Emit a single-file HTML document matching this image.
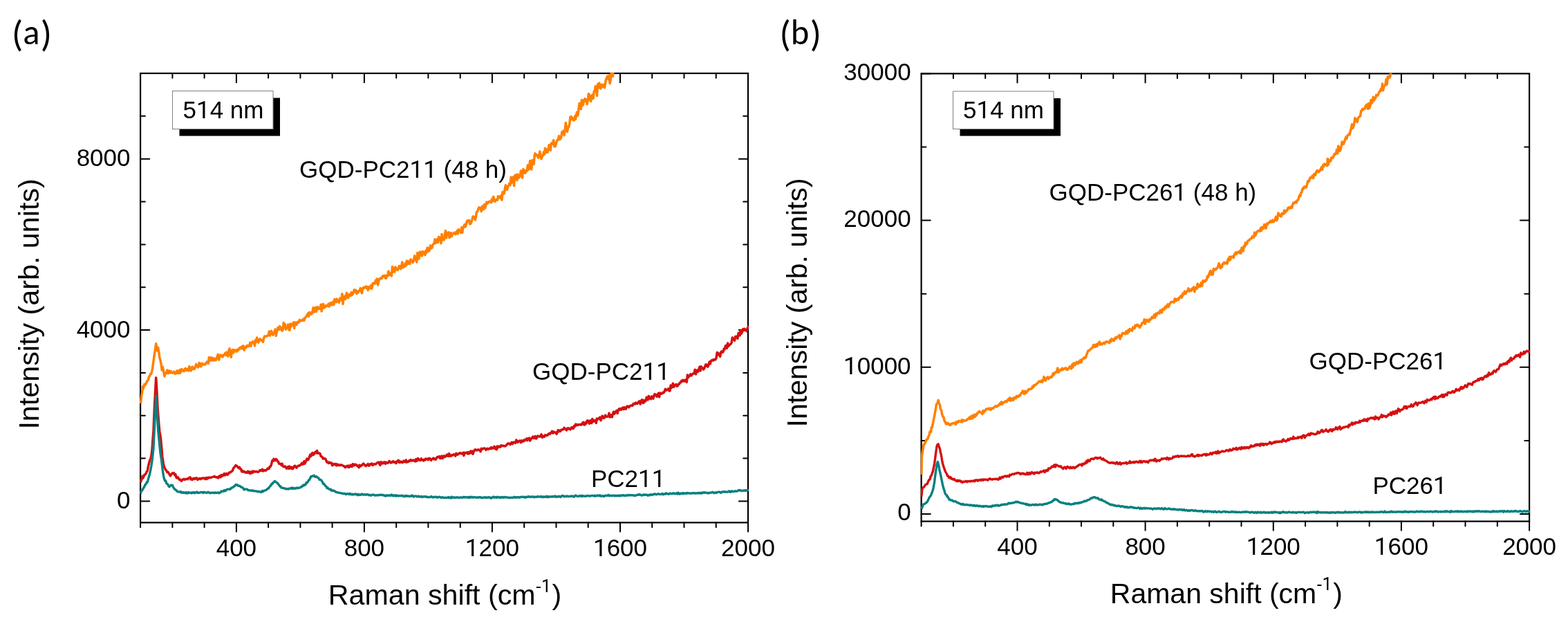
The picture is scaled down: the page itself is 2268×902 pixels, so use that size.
<!DOCTYPE html>
<html><head><meta charset="utf-8"><title>Raman spectra</title>
<style>html,body{margin:0;padding:0;background:#fff;}svg{display:block;}</style>
</head><body>
<svg width="2268" height="902" viewBox="0 0 2268 902">
<rect width="2268" height="902" fill="#fff"/>
<defs><clipPath id="ca"><rect x="202.1" y="105.0" width="880.9" height="651.4"/></clipPath><clipPath id="cb"><rect x="1331.6" y="105.4" width="881.5" height="649.2"/></clipPath></defs>
<rect x="203.1" y="106.0" width="878.9" height="649.4" fill="none" stroke="#000" stroke-width="2.2"/>
<path d="M203.1 755.4v6.8M249.4 755.4v6.8M249.4 106.0v6.8M295.6 755.4v6.8M295.6 106.0v6.8M341.9 755.4v13.2M341.9 106.0v13.2M388.1 755.4v6.8M388.1 106.0v6.8M434.4 755.4v6.8M434.4 106.0v6.8M480.6 755.4v6.8M480.6 106.0v6.8M526.9 755.4v13.2M526.9 106.0v13.2M573.2 755.4v6.8M573.2 106.0v6.8M619.4 755.4v6.8M619.4 106.0v6.8M665.7 755.4v6.8M665.7 106.0v6.8M711.9 755.4v13.2M711.9 106.0v13.2M758.2 755.4v6.8M758.2 106.0v6.8M804.5 755.4v6.8M804.5 106.0v6.8M850.7 755.4v6.8M850.7 106.0v6.8M897.0 755.4v13.2M897.0 106.0v13.2M943.2 755.4v6.8M943.2 106.0v6.8M989.5 755.4v6.8M989.5 106.0v6.8M1035.7 755.4v6.8M1035.7 106.0v6.8M1082.0 755.4v13.2M203.1 724.5h13.2M1082.0 724.5h-13.2M203.1 662.6h6.8M1082.0 662.6h-6.8M203.1 600.8h6.8M1082.0 600.8h-6.8M203.1 538.9h6.8M1082.0 538.9h-6.8M203.1 477.1h13.2M1082.0 477.1h-13.2M203.1 415.2h6.8M1082.0 415.2h-6.8M203.1 353.4h6.8M1082.0 353.4h-6.8M203.1 291.5h6.8M1082.0 291.5h-6.8M203.1 229.7h13.2M1082.0 229.7h-13.2M203.1 167.8h6.8M1082.0 167.8h-6.8M203.1 106.0h6.8" fill="none" stroke="#000" stroke-width="2.0" stroke-linecap="round"/>
<rect x="1332.6" y="106.4" width="879.5" height="647.2" fill="none" stroke="#000" stroke-width="2.2"/>
<path d="M1332.6 753.6v6.8M1378.9 753.6v6.8M1378.9 106.4v6.8M1425.2 753.6v6.8M1425.2 106.4v6.8M1471.5 753.6v13.2M1471.5 106.4v13.2M1517.8 753.6v6.8M1517.8 106.4v6.8M1564.0 753.6v6.8M1564.0 106.4v6.8M1610.3 753.6v6.8M1610.3 106.4v6.8M1656.6 753.6v13.2M1656.6 106.4v13.2M1702.9 753.6v6.8M1702.9 106.4v6.8M1749.2 753.6v6.8M1749.2 106.4v6.8M1795.5 753.6v6.8M1795.5 106.4v6.8M1841.8 753.6v13.2M1841.8 106.4v13.2M1888.1 753.6v6.8M1888.1 106.4v6.8M1934.4 753.6v6.8M1934.4 106.4v6.8M1980.7 753.6v6.8M1980.7 106.4v6.8M2026.9 753.6v13.2M2026.9 106.4v13.2M2073.2 753.6v6.8M2073.2 106.4v6.8M2119.5 753.6v6.8M2119.5 106.4v6.8M2165.8 753.6v6.8M2165.8 106.4v6.8M2212.1 753.6v13.2M1332.6 743.0h13.2M2212.1 743.0h-13.2M1332.6 636.9h6.8M2212.1 636.9h-6.8M1332.6 530.8h13.2M2212.1 530.8h-13.2M1332.6 424.7h6.8M2212.1 424.7h-6.8M1332.6 318.6h13.2M2212.1 318.6h-13.2M1332.6 212.5h6.8M2212.1 212.5h-6.8M1332.6 106.4h13.2" fill="none" stroke="#000" stroke-width="2.0" stroke-linecap="round"/>
<g clip-path="url(#ca)">
<path d="M203.4 583.2 204.7 572.3 205.6 566.5 206.7 558.5 207.3 561.9 207.8 559.7 208.9 555.5 210.0 556.5 211.3 554.1 212.2 552.4 213.3 550.0 214.4 549.4 215.5 544.3 216.6 543.5 217.7 540.4 218.8 540.4 219.9 535.8 220.6 532.5 222.1 521.5 223.2 513.6 223.9 509.0 225.7 496.8 226.5 502.5 227.6 506.9 228.6 502.2 229.8 508.7 230.9 517.3 232.0 520.8 232.6 524.5 233.1 526.4 234.2 535.1 235.3 530.4 236.4 535.5 237.9 544.0 238.6 540.6 239.7 540.6 240.8 537.7 241.9 535.0 243.0 539.4 244.1 539.3 244.6 536.0 245.2 537.3 246.3 538.8 247.4 536.6 248.5 538.6 249.6 539.0 250.7 538.7 251.8 537.2 252.9 539.8 254.0 540.3 255.1 538.8 256.2 535.8 257.3 539.4 258.4 536.2 259.5 539.4 260.0 534.6 260.6 539.3 261.7 536.9 262.8 533.6 263.9 535.7 265.0 536.3 266.1 536.6 267.2 533.2 268.3 532.6 269.4 535.5 270.5 533.6 271.6 535.0 272.7 535.9 273.8 529.6 274.9 533.9 276.0 536.0 277.1 531.8 278.2 530.2 279.3 533.7 280.4 532.0 281.5 533.2 282.6 529.8 283.7 526.5 284.8 529.5 285.9 528.3 286.5 531.1 287.0 529.5 288.1 524.5 289.2 525.2 290.3 529.9 291.4 529.0 292.5 525.2 293.6 526.3 294.7 526.9 295.8 526.5 296.9 527.0 298.0 524.9 299.1 523.5 300.2 522.5 301.3 525.3 302.4 516.4 303.5 521.2 304.6 521.1 305.7 516.8 306.8 520.8 307.9 517.8 309.0 521.1 310.1 518.1 311.2 519.6 312.3 520.6 313.4 518.0 314.5 514.3 315.3 512.3 316.7 520.2 317.8 515.0 318.9 513.0 320.0 514.8 321.1 513.5 322.2 515.9 323.3 513.4 324.4 512.9 325.5 510.7 326.6 513.4 327.7 509.1 328.8 513.2 329.9 515.1 331.0 506.7 332.1 503.9 333.2 511.6 334.3 516.3 335.4 506.6 336.5 505.6 337.6 510.0 338.7 505.9 339.8 506.4 340.9 506.4 342.0 508.3 343.1 505.4 344.1 506.8 345.3 505.2 346.4 502.9 347.5 503.9 348.6 501.8 349.7 503.8 350.8 500.4 351.9 500.0 353.0 506.3 354.1 501.8 355.2 501.3 356.3 502.4 357.4 499.4 358.5 499.4 359.6 500.6 360.7 499.8 361.8 495.4 362.9 500.2 364.0 495.9 365.1 494.1 366.2 494.0 367.3 494.8 368.4 499.8 369.5 491.6 370.6 494.7 371.7 487.9 373.0 493.1 373.9 495.1 375.0 491.4 376.1 489.8 377.2 491.5 378.3 492.2 379.4 491.4 380.5 494.4 381.6 488.9 382.7 486.0 383.8 486.6 384.9 486.1 386.0 485.9 387.1 484.9 388.2 484.8 389.3 479.0 390.4 485.3 391.5 480.7 392.6 478.4 393.7 482.8 394.8 484.1 395.9 481.2 397.0 479.7 398.1 476.1 399.2 485.5 400.3 480.1 401.8 473.8 402.5 474.5 403.6 476.5 404.7 471.5 405.8 475.9 406.9 473.8 408.0 478.2 409.1 477.1 410.2 466.6 411.3 473.8 412.4 468.7 413.5 476.2 414.6 473.2 415.7 473.9 416.8 469.0 417.9 476.9 419.0 477.2 420.1 468.0 421.2 471.8 422.3 468.5 423.4 469.9 424.5 466.0 425.6 474.6 426.7 466.1 427.8 467.6 428.9 469.4 430.0 465.6 430.6 466.5 431.1 465.3 432.2 466.0 433.3 462.4 434.4 463.9 435.5 463.8 436.6 462.7 437.7 463.1 438.8 461.2 439.9 463.4 441.0 459.4 442.1 459.1 443.2 456.7 444.3 456.2 445.4 453.1 446.5 457.4 447.6 451.6 448.7 451.9 449.8 454.3 450.9 453.6 452.0 450.4 453.1 444.8 454.2 451.3 455.3 450.1 456.4 444.4 457.5 450.3 458.6 445.3 459.4 443.6 460.8 446.7 461.9 445.4 463.0 446.1 464.1 440.3 465.2 450.1 466.3 442.5 467.4 439.3 468.5 445.4 469.6 442.1 470.7 443.8 471.8 441.5 472.9 442.0 474.0 442.5 475.1 439.2 476.2 443.1 477.3 439.2 478.4 437.6 479.5 440.0 480.0 440.9 480.6 438.7 481.7 436.3 482.8 440.2 483.9 432.5 485.0 434.2 486.1 436.9 487.2 432.1 488.3 435.8 489.4 434.9 490.5 437.3 491.6 431.2 492.7 431.5 493.8 433.8 494.9 424.7 496.0 439.6 497.1 428.9 498.2 428.3 499.3 432.6 500.0 429.5 501.5 423.4 502.6 430.2 503.7 430.4 504.8 425.8 505.9 425.7 507.0 427.5 508.1 422.6 509.2 426.3 510.3 425.0 511.4 421.7 512.5 418.9 513.6 422.0 514.7 419.4 515.8 424.7 516.9 421.5 518.0 423.0 519.1 420.5 519.9 420.5 521.3 416.6 522.4 420.7 523.5 423.8 524.6 416.8 525.7 415.5 526.8 416.5 527.9 415.1 529.0 414.0 530.1 416.2 531.2 414.5 532.3 419.5 533.4 414.6 534.5 415.2 535.6 416.7 536.7 412.3 537.8 417.3 538.9 410.2 539.9 409.1 541.1 409.9 542.2 410.1 543.3 405.3 544.4 408.9 545.5 402.9 546.6 411.9 547.7 406.4 548.8 403.8 549.9 402.1 551.0 402.9 552.1 402.6 553.2 399.1 554.3 398.7 555.4 400.2 556.5 398.3 557.6 402.2 558.7 402.1 559.8 397.8 560.9 398.5 562.0 392.0 563.1 397.7 564.2 394.8 565.3 395.8 566.4 398.8 567.5 385.5 568.6 393.1 569.7 388.0 570.8 392.9 571.9 386.0 573.0 388.1 574.1 389.7 575.2 390.4 576.3 388.0 577.4 384.5 578.5 384.7 579.8 388.6 580.7 385.1 581.8 379.0 582.9 386.7 584.0 384.6 585.1 385.5 586.2 380.8 587.3 384.0 588.4 377.1 589.5 381.9 590.6 377.7 591.7 381.0 592.8 381.4 593.9 374.9 595.0 376.6 596.1 376.2 597.2 379.4 598.3 377.1 599.7 369.7 600.5 374.8 601.6 375.1 602.7 379.0 603.8 365.5 604.9 368.6 606.0 374.1 607.1 364.3 608.2 364.1 609.3 369.1 610.4 370.0 611.5 363.5 612.6 366.8 613.7 364.6 614.8 368.6 615.9 362.6 617.0 365.2 618.1 357.9 619.2 359.5 619.7 359.5 620.3 363.2 621.4 360.5 622.5 355.0 623.6 359.0 624.7 358.3 625.8 354.3 626.9 352.8 628.0 352.1 629.1 345.9 630.2 351.4 631.3 350.6 632.4 345.9 633.5 350.6 634.6 342.3 635.7 344.4 636.8 343.8 637.9 351.7 639.0 338.5 639.6 345.8 640.1 346.8 641.2 344.3 642.3 346.6 643.4 338.5 644.5 333.6 645.6 343.9 646.7 336.6 647.8 339.3 648.9 335.9 650.0 343.4 651.1 342.4 652.2 336.5 653.3 341.8 654.4 338.6 655.5 337.3 656.6 337.5 657.7 336.1 658.8 338.5 659.6 337.0 661.0 333.9 662.1 338.0 663.2 331.6 664.3 334.0 665.4 333.7 666.5 336.7 667.6 328.8 668.7 335.9 669.8 329.4 670.9 327.1 672.0 324.5 673.1 328.0 674.2 325.1 675.3 319.9 676.4 318.8 677.5 319.8 678.6 318.3 679.5 323.8 680.8 323.5 681.9 320.5 683.0 317.3 684.1 313.0 685.2 313.3 686.3 314.9 687.4 317.9 688.5 311.9 689.6 306.0 690.7 305.7 691.8 302.3 692.9 299.8 694.0 300.6 695.1 300.7 696.2 305.6 697.3 297.9 698.4 301.8 699.5 302.6 700.6 295.6 701.7 300.7 702.8 296.8 703.9 292.1 705.0 294.2 706.1 292.8 707.2 291.5 708.3 291.2 709.4 292.1 710.5 292.8 711.6 287.5 712.7 290.4 713.8 284.3 714.9 290.5 716.0 291.3 717.1 289.0 718.2 288.8 719.4 289.2 720.4 283.7 721.5 284.2 722.6 285.8 723.7 286.3 724.8 282.5 725.9 289.1 727.0 277.6 728.1 280.2 729.2 279.8 730.3 273.1 730.9 269.8 731.4 267.8 732.5 271.8 733.6 274.2 734.7 269.8 735.8 268.3 736.9 265.1 738.0 267.6 739.1 256.1 740.2 264.1 741.3 262.3 742.4 255.9 743.5 268.5 744.6 253.8 745.3 254.3 746.8 252.6 747.9 260.6 749.0 252.0 750.1 257.2 751.2 256.1 752.3 254.0 753.4 247.1 754.5 249.0 755.6 257.1 756.7 244.6 757.8 245.5 758.9 247.1 759.7 250.2 761.1 246.6 762.2 247.2 763.3 238.8 764.4 245.3 765.5 242.4 766.6 232.5 767.7 243.4 768.8 244.9 769.9 231.4 771.0 233.3 772.1 237.4 773.2 224.7 774.1 221.8 775.4 223.3 776.5 225.3 777.6 224.3 778.7 228.1 779.8 225.9 780.9 219.0 782.0 225.4 783.1 229.8 784.2 226.3 785.3 224.7 786.4 219.9 787.5 223.0 788.5 214.3 789.7 220.3 790.8 216.1 791.9 220.2 793.0 216.7 794.1 209.6 795.2 213.7 796.3 217.3 797.4 206.9 798.5 208.3 799.6 206.6 800.7 202.6 801.8 211.6 802.9 211.9 804.0 208.7 805.1 205.1 806.2 202.5 807.3 202.1 808.4 196.6 809.5 201.6 810.6 200.6 811.7 198.4 812.8 190.7 813.9 191.6 815.0 189.0 816.1 195.5 817.3 187.2 818.3 177.4 819.4 185.5 820.5 190.4 821.6 184.1 822.7 183.6 823.8 178.8 824.9 169.1 826.0 168.5 827.1 169.6 828.2 173.0 829.3 173.5 830.4 173.8 831.7 167.8 832.6 172.1 833.7 165.3 834.8 162.0 835.9 167.1 837.0 158.0 838.1 149.2 839.2 154.1 840.3 157.5 841.4 144.4 842.5 152.4 843.6 150.9 844.7 144.7 846.1 142.6 846.9 146.0 848.0 144.2 849.1 150.6 850.2 145.4 851.3 135.5 852.4 137.3 853.5 142.7 854.6 146.5 855.7 138.7 856.8 137.1 857.9 142.6 859.0 133.2 860.5 130.4 861.2 124.8 862.3 127.7 863.4 138.4 864.5 121.7 865.6 127.0 866.7 119.9 867.8 125.7 868.9 128.1 870.0 122.2 871.1 125.6 872.2 124.5 873.3 122.3 874.4 126.8 875.5 121.5 876.2 116.0 877.7 112.4 878.8 110.2 879.9 114.4 881.0 109.2 882.1 120.5 883.2 115.5 884.3 104.7 885.5 102.5 886.5 110.2 887.6 92.9 888.7 97.9 889.8 102.8" fill="none" stroke="#ff8000" stroke-width="3.5" stroke-linejoin="round"/>
<path d="M203.4 697.2 204.5 693.5 205.6 691.1 206.1 688.3 206.7 691.2 207.8 689.1 209.0 686.2 210.0 686.1 211.1 684.4 212.2 681.9 213.3 680.3 214.4 674.4 215.9 668.1 216.6 665.4 217.7 664.0 218.9 658.7 219.9 650.8 220.7 639.6 222.0 622.4 223.2 593.4 224.5 566.6 225.7 545.9 226.9 565.6 227.6 581.5 228.3 593.2 229.9 613.3 230.9 624.7 232.3 632.0 233.1 640.2 234.2 652.1 234.8 660.0 235.3 662.7 236.4 670.6 237.5 674.8 238.6 677.0 239.7 679.2 240.8 680.4 241.6 682.5 243.0 682.2 244.1 684.1 245.2 685.8 246.3 688.0 247.5 685.9 248.5 684.9 249.6 683.9 250.8 684.5 251.8 683.8 252.9 686.9 254.0 685.8 255.1 690.3 255.8 690.9 257.3 689.8 258.4 692.0 259.5 693.5 260.6 693.0 261.7 694.1 262.4 695.3 263.9 693.5 265.0 692.9 266.1 692.4 267.2 693.5 268.3 692.6 269.4 692.4 270.5 692.3 271.6 692.8 272.7 691.2 273.8 690.7 275.0 689.9 276.0 693.0 277.1 692.0 278.2 693.3 279.3 692.0 280.4 691.3 281.5 692.4 282.6 691.9 283.7 690.8 284.8 691.2 285.9 693.5 287.0 692.2 288.1 692.3 288.7 691.7 289.2 691.3 290.3 692.6 291.4 691.7 292.5 691.1 293.6 691.6 294.7 690.8 295.8 691.7 296.9 692.4 298.0 690.6 299.1 692.5 300.2 690.5 301.3 691.1 302.4 690.1 303.5 690.5 304.6 690.6 305.7 690.0 306.8 689.6 307.9 689.4 309.0 689.1 310.1 688.3 310.9 689.4 312.3 689.7 313.4 690.0 314.5 689.6 315.6 691.0 316.7 688.8 317.8 687.9 318.9 689.8 320.0 686.8 321.1 688.4 322.2 686.3 323.3 687.2 324.4 684.6 325.5 687.0 326.6 685.6 327.7 684.4 328.8 686.5 329.9 685.2 331.0 684.0 332.1 682.7 333.0 683.0 334.3 681.8 335.4 681.4 336.5 680.0 337.6 676.9 338.7 675.6 339.8 674.3 340.9 672.6 341.9 673.2 343.1 673.9 344.2 675.3 345.3 676.7 346.4 675.4 347.5 677.9 348.6 678.0 349.7 681.7 350.8 680.6 351.9 682.1 353.0 681.4 354.1 682.0 355.2 683.2 356.3 682.6 357.4 683.3 358.5 681.4 359.6 683.5 360.7 681.9 361.8 684.5 362.9 682.4 364.0 683.7 365.1 681.1 366.2 682.8 367.3 681.3 368.4 681.6 369.5 682.0 370.6 681.5 371.7 681.9 372.8 682.3 373.9 682.0 375.0 681.1 376.1 679.6 377.4 680.0 378.3 680.5 379.4 678.3 380.5 681.0 381.6 679.7 382.7 679.5 383.8 680.4 384.9 679.7 386.0 678.9 387.1 677.1 388.5 677.8 389.3 677.2 390.4 674.2 391.5 674.2 392.6 671.2 393.7 665.9 394.8 666.3 395.9 663.3 396.9 665.7 398.1 665.4 399.2 663.6 400.3 664.6 401.4 666.6 402.5 667.2 403.6 670.3 404.7 670.5 405.8 670.4 406.9 672.4 408.0 670.4 409.1 673.8 410.6 675.0 411.3 674.1 412.4 673.9 413.5 675.6 414.6 677.4 415.7 675.7 416.8 674.6 417.9 677.5 419.0 674.1 420.1 676.8 421.2 675.7 421.7 677.3 422.3 675.4 423.4 677.6 424.5 676.4 425.6 673.9 426.7 673.4 427.8 674.8 428.9 676.1 430.0 674.4 431.1 673.8 432.2 672.9 433.3 673.3 434.4 672.3 435.5 671.5 436.6 669.4 437.7 671.1 438.8 670.6 439.9 666.7 441.0 670.1 442.1 667.5 443.2 665.3 443.9 663.1 445.4 664.8 446.5 663.4 447.6 660.4 448.7 657.3 449.8 659.4 450.9 655.8 452.0 654.6 453.1 657.6 454.2 656.4 455.0 654.7 456.4 653.1 457.5 654.8 458.6 651.5 459.7 655.3 460.8 654.9 461.9 655.1 463.0 655.7 464.1 659.4 465.2 659.9 466.3 661.1 467.4 663.1 468.5 662.2 469.6 662.8 470.7 663.2 471.8 665.9 472.9 668.1 474.0 667.9 475.1 669.5 476.2 668.0 477.2 669.2 478.4 669.2 479.5 669.0 480.6 672.8 481.7 672.0 482.8 670.5 483.9 670.8 485.0 671.9 486.1 670.6 487.2 672.9 488.3 671.3 489.4 672.5 490.5 672.0 491.6 672.8 492.7 672.0 493.8 671.9 494.9 672.7 496.0 673.1 497.1 673.6 498.2 674.1 499.3 675.7 500.4 674.9 501.5 673.7 502.6 674.8 503.7 673.2 504.8 675.5 505.9 674.5 507.0 672.3 508.1 674.6 509.2 674.6 510.3 670.7 511.4 672.7 512.5 672.9 513.6 671.2 514.7 672.1 515.8 672.1 516.9 673.7 518.0 673.3 519.1 675.8 520.2 672.3 521.3 674.0 522.4 672.7 523.5 672.8 524.6 671.1 525.7 670.1 526.8 671.3 527.9 672.9 529.0 673.7 530.1 672.5 531.2 672.2 532.3 670.6 533.4 673.2 534.5 672.9 535.6 670.7 536.5 671.1 537.8 670.0 538.9 672.6 540.0 671.3 541.1 670.7 542.2 671.1 543.3 671.1 544.4 670.0 545.5 668.9 546.6 668.8 547.7 668.1 548.8 670.5 549.9 672.4 551.0 667.8 552.1 669.8 553.2 670.0 554.3 668.3 555.4 669.5 556.5 667.9 557.6 670.4 558.7 668.3 559.8 668.9 560.9 669.5 562.0 668.1 563.1 666.4 564.2 667.7 565.3 669.1 566.4 668.0 567.5 668.3 568.6 666.7 569.7 668.0 570.8 668.5 571.9 667.6 573.0 669.7 574.2 667.2 575.2 666.1 576.3 665.3 577.4 668.5 578.5 667.0 579.6 668.2 580.7 667.4 581.8 668.7 582.9 668.2 584.0 666.2 585.1 666.9 586.2 667.8 587.3 665.0 588.4 668.1 589.5 667.7 590.6 667.4 591.7 665.9 592.8 666.4 593.9 664.7 595.0 666.0 596.1 665.2 597.2 665.9 598.3 665.1 599.4 666.0 600.5 667.0 601.6 663.9 602.7 666.5 603.8 663.0 604.9 662.7 606.0 665.0 607.1 665.1 608.2 665.5 609.3 662.9 610.4 664.7 611.9 664.8 612.6 666.0 613.7 664.3 614.8 664.9 615.9 663.0 617.0 663.8 618.1 663.4 619.2 664.6 620.3 662.4 621.4 662.5 622.5 664.0 623.6 665.3 624.7 663.4 625.8 663.2 626.9 662.2 628.0 663.8 629.1 663.0 630.2 664.2 631.3 662.4 632.4 660.6 633.5 660.9 634.6 660.2 635.7 659.7 636.8 662.6 637.9 661.9 639.0 659.1 640.1 662.7 641.2 660.6 642.3 658.9 643.4 660.4 644.5 659.7 645.6 658.6 646.7 657.0 647.8 659.2 648.9 659.4 649.6 655.7 651.1 659.3 652.2 659.2 653.3 657.7 654.4 658.3 655.5 657.6 656.6 656.7 657.7 657.1 658.8 659.1 659.9 655.4 661.0 657.3 662.1 657.0 663.2 655.7 664.3 655.9 665.4 654.5 666.5 655.0 667.6 655.9 668.7 656.1 669.8 654.3 670.9 658.6 672.0 654.4 673.1 655.1 674.2 654.4 675.3 654.0 676.4 656.0 677.5 653.5 678.6 655.6 679.7 655.2 680.8 652.1 681.9 654.6 683.0 652.2 684.1 656.3 685.2 652.2 686.3 651.3 687.3 649.8 688.5 650.4 689.6 651.1 690.7 650.4 691.8 649.8 692.9 650.3 694.0 650.8 695.1 652.8 696.2 648.4 697.3 649.7 698.4 648.9 699.5 648.0 700.6 648.1 701.7 648.4 702.8 650.3 703.9 648.9 705.0 648.2 706.1 649.5 707.2 648.9 708.3 648.0 709.4 648.6 710.5 646.7 711.6 648.5 712.7 648.0 713.8 646.6 714.9 645.3 716.0 648.8 717.1 646.6 718.2 649.8 719.3 645.1 720.4 647.0 721.5 645.0 722.6 645.7 723.7 646.2 725.0 643.7 725.9 644.5 727.0 644.6 728.1 644.3 729.2 644.7 730.3 645.0 731.4 644.5 732.5 643.4 733.6 642.3 734.7 641.0 735.8 641.2 736.9 641.3 738.0 642.7 739.1 640.9 740.2 639.4 741.3 641.8 742.4 639.5 743.5 639.2 744.6 639.7 745.7 640.4 746.8 636.0 747.9 637.6 749.0 639.2 750.1 638.1 751.2 637.1 752.3 637.3 753.4 639.8 754.5 636.8 755.6 638.2 756.7 638.1 757.8 636.0 758.9 637.0 760.0 635.4 761.1 634.9 762.2 633.9 762.7 636.7 763.3 634.7 764.4 634.2 765.5 633.1 766.6 637.1 767.7 635.2 768.8 633.7 769.9 632.6 771.0 631.1 772.1 633.5 773.2 633.2 774.3 630.5 775.4 634.0 776.5 633.2 777.6 630.3 778.7 630.6 779.8 630.6 780.9 631.2 782.0 630.4 783.1 627.9 784.2 632.3 785.3 630.3 786.4 631.5 787.5 631.2 788.6 628.7 789.7 629.3 790.8 629.6 791.9 629.3 793.0 627.6 794.1 626.7 795.2 627.4 796.3 625.8 797.4 625.9 798.5 623.3 800.0 626.1 800.7 624.2 801.8 624.6 802.9 625.1 804.0 625.3 805.1 627.5 806.2 624.5 807.3 621.7 808.4 623.8 809.5 622.3 810.6 623.5 811.7 621.5 812.8 621.1 813.9 621.1 815.0 620.5 816.1 618.3 817.2 619.8 818.3 620.5 819.4 622.0 820.5 619.3 821.6 618.8 822.7 620.0 823.8 619.6 824.9 620.9 826.0 618.9 827.1 617.6 828.2 619.4 829.3 619.4 830.4 615.8 831.5 616.5 832.6 613.2 833.7 614.9 834.8 613.8 835.9 614.5 837.0 613.7 838.1 613.9 839.2 613.6 840.3 614.3 841.4 613.5 842.1 612.0 843.6 610.3 844.7 614.1 845.8 614.1 846.9 610.7 848.0 612.1 849.1 608.3 850.2 608.0 851.3 609.8 852.4 612.4 853.5 607.9 854.6 607.9 855.7 611.7 856.8 605.5 857.9 609.5 859.0 608.9 860.1 607.4 861.2 607.7 862.3 611.4 863.4 604.9 864.5 605.9 865.6 605.7 866.7 604.6 867.8 603.1 868.9 607.7 870.0 605.1 871.1 601.3 872.2 602.7 873.1 604.3 874.4 603.8 875.5 600.2 876.6 602.1 877.7 602.3 878.8 602.0 879.9 601.6 881.0 597.3 882.1 603.1 883.2 599.8 884.3 602.0 885.4 602.9 886.5 597.6 887.6 595.2 888.7 598.3 889.8 595.9 890.9 594.9 892.0 593.4 893.1 597.6 894.2 593.4 895.3 591.1 896.4 592.3 897.5 590.5 898.6 592.3 899.7 590.8 900.8 589.2 901.9 591.6 903.0 588.9 904.1 590.9 905.2 591.4 906.3 588.0 907.4 587.1 908.5 588.1 909.6 588.9 910.7 586.9 911.8 586.7 912.9 586.0 914.0 586.2 915.1 586.3 916.2 583.4 917.3 583.4 918.4 584.0 919.5 582.2 920.6 583.3 921.7 583.6 922.8 582.1 923.9 580.6 925.0 579.9 926.1 584.1 927.2 582.1 928.3 577.9 929.4 578.0 930.5 582.6 931.6 581.5 932.7 578.5 933.8 579.9 935.2 574.4 936.0 576.9 937.1 577.8 938.2 572.4 939.3 574.0 940.4 576.5 941.5 576.7 942.6 573.0 943.7 574.2 944.8 576.2 945.9 572.0 947.0 569.7 948.1 571.6 949.2 570.5 950.3 573.3 951.4 570.6 952.5 568.3 953.6 573.9 954.7 567.9 955.8 569.2 956.9 569.1 958.0 568.8 959.1 567.1 960.2 567.4 961.3 565.6 962.4 562.4 963.5 564.2 964.6 563.7 965.7 563.2 966.2 563.6 966.8 561.8 967.9 565.0 969.0 564.9 970.1 556.9 971.2 560.6 972.3 558.6 973.4 554.2 974.5 559.6 975.6 556.9 976.7 556.7 977.8 555.5 978.9 558.3 980.0 558.0 981.1 555.4 982.2 555.6 983.3 553.3 984.4 553.1 985.5 550.6 986.6 551.5 987.7 549.3 988.8 550.8 989.9 551.0 991.0 549.2 992.1 550.3 993.2 552.5 994.3 542.1 995.4 545.8 996.5 543.9 997.2 543.7 998.7 540.8 999.8 543.0 1000.9 541.7 1002.0 540.2 1003.1 540.2 1004.2 538.8 1005.3 534.4 1006.4 540.9 1007.5 537.2 1008.6 535.1 1009.7 537.1 1010.8 534.3 1011.9 530.3 1013.0 536.1 1014.1 529.8 1015.2 532.2 1016.3 532.1 1017.4 534.0 1018.5 532.9 1019.6 529.9 1020.7 527.0 1021.8 527.0 1022.9 529.4 1024.0 530.1 1025.1 526.5 1026.2 523.1 1027.3 525.9 1028.2 522.1 1029.5 520.9 1030.6 520.3 1031.7 521.2 1032.8 519.6 1033.9 520.1 1035.0 519.8 1036.1 517.0 1037.2 509.6 1038.3 510.0 1039.4 513.0 1040.5 511.4 1041.6 515.4 1042.7 509.3 1043.8 507.9 1044.9 509.3 1046.0 508.5 1047.1 504.4 1048.2 504.9 1049.3 500.1 1050.4 499.4 1051.5 503.3 1052.6 496.1 1053.7 500.4 1054.8 498.8 1055.9 498.0 1057.0 497.3 1058.1 495.4 1059.3 488.0 1060.3 489.7 1061.4 489.7 1062.5 492.3 1063.6 486.5 1064.7 486.5 1065.8 486.3 1066.9 489.4 1068.0 481.8 1069.1 481.1 1070.2 484.9 1071.3 477.3 1072.4 482.3 1073.5 479.5 1074.6 475.8 1075.7 477.7 1076.8 475.3 1077.9 477.3 1079.0 476.8 1080.1 478.7 1081.2 474.1 1082.3 473.5 1083.2 471.1" fill="none" stroke="#d51010" stroke-width="3.5" stroke-linejoin="round"/>
<path d="M203.4 713.3 204.5 709.5 205.6 709.1 206.7 706.8 208.0 704.8 208.9 703.4 210.0 700.6 211.1 699.8 212.2 697.2 213.3 697.0 214.4 692.6 215.5 688.8 216.6 685.0 217.1 682.7 217.7 679.6 218.8 673.7 220.1 665.4 221.0 657.3 222.0 647.7 223.2 622.9 223.8 610.0 224.3 601.9 224.8 590.8 225.8 572.2 226.9 589.7 228.0 610.7 228.7 622.3 229.8 632.9 230.5 640.2 232.0 655.1 233.1 661.8 234.1 669.7 235.3 679.9 236.4 687.3 237.5 692.1 238.6 695.1 239.7 694.9 241.0 699.1 241.9 699.3 243.0 700.6 244.1 703.1 245.0 703.7 246.3 702.4 247.4 701.1 248.7 701.1 249.6 701.7 250.7 704.4 251.8 706.1 252.4 706.6 252.9 707.6 254.0 708.0 255.1 708.7 256.2 710.3 257.3 710.9 258.3 710.9 259.5 710.9 260.6 711.6 261.7 710.6 262.8 712.2 263.9 712.3 265.0 711.5 266.1 712.3 267.2 712.0 268.3 712.8 269.4 711.6 270.0 712.1 270.5 712.8 271.6 713.0 272.7 711.5 273.8 712.2 274.9 712.5 276.0 712.1 277.1 713.0 278.2 711.7 279.3 712.3 280.4 711.6 281.5 712.7 282.6 712.0 283.7 711.8 284.8 711.1 285.9 712.6 287.0 712.2 288.1 712.1 288.7 712.3 289.2 712.0 290.3 711.5 291.4 711.5 292.5 711.5 293.6 712.5 294.7 711.2 295.8 711.7 296.9 711.8 298.0 712.1 299.1 712.3 300.2 711.5 301.3 711.3 302.4 712.1 303.5 712.7 304.6 712.5 305.7 712.3 306.8 712.1 307.9 712.4 309.0 712.2 310.1 712.7 310.9 711.9 312.3 712.3 313.4 712.1 314.5 712.3 315.6 712.0 316.7 712.9 317.8 712.2 318.9 711.9 320.0 710.0 321.1 710.5 322.2 710.0 323.3 710.2 324.4 708.5 325.5 709.8 326.6 709.3 327.7 707.7 328.8 707.5 329.9 707.1 331.0 707.1 332.1 707.0 333.0 707.4 334.3 705.5 335.4 705.3 336.5 704.1 337.6 704.1 338.7 702.7 339.8 702.4 340.9 700.5 341.9 700.9 343.1 700.6 344.2 702.3 345.3 702.3 346.4 702.3 347.5 702.9 348.6 704.1 349.7 704.2 350.8 704.8 351.9 706.2 353.0 707.9 354.1 706.9 355.2 707.1 356.3 707.1 357.4 707.2 358.5 708.4 359.6 708.8 360.7 708.7 361.8 709.0 362.9 709.2 364.0 709.4 365.1 708.8 366.2 709.5 367.3 709.9 368.4 709.7 369.5 709.9 370.6 709.9 371.7 710.3 372.8 710.9 373.9 710.4 375.0 710.6 376.1 711.1 377.4 711.0 378.3 711.4 379.4 709.5 380.5 710.5 381.6 709.4 382.7 709.1 383.8 708.8 384.9 708.3 386.0 707.5 387.1 706.3 388.5 706.1 389.3 704.3 390.4 703.1 391.5 702.1 392.6 699.6 393.7 699.7 394.8 697.7 395.9 697.5 396.9 695.8 398.1 695.8 399.2 696.7 400.3 697.9 401.4 698.1 402.5 699.9 403.6 700.9 404.7 703.1 405.8 703.0 406.9 705.0 408.0 705.0 409.1 705.4 410.6 705.9 411.3 705.7 412.4 706.4 413.5 706.8 414.6 706.4 415.7 706.6 416.8 707.1 417.9 706.3 419.0 706.3 420.1 706.0 421.2 705.2 422.3 706.4 423.4 705.0 424.5 706.2 425.6 705.8 426.7 706.3 427.8 705.6 428.9 705.1 430.0 705.7 431.1 705.1 432.2 705.2 432.8 705.2 433.3 705.1 434.4 704.7 435.5 703.9 436.6 703.7 437.7 701.8 438.8 702.2 439.9 700.7 441.0 701.2 442.1 700.3 443.2 697.4 443.9 698.1 445.4 696.3 446.5 694.1 447.6 693.6 448.7 691.2 449.8 688.8 450.9 688.7 452.0 688.1 452.8 688.1 454.2 687.2 455.3 689.0 456.4 689.5 457.5 688.7 458.6 689.6 459.4 690.4 460.8 691.0 461.9 693.4 463.0 693.3 464.1 693.6 465.2 695.0 466.3 696.7 467.4 699.5 468.5 699.2 469.6 700.7 470.7 702.2 471.8 703.1 472.9 705.5 474.0 705.0 475.1 706.5 476.2 707.0 477.2 707.7 478.4 707.3 479.5 709.3 480.6 708.8 481.7 709.3 482.8 709.2 483.9 709.7 485.0 710.7 486.1 711.3 487.2 711.5 488.3 712.0 489.4 712.1 490.5 712.1 491.6 712.7 492.7 712.9 493.8 712.8 494.9 713.3 496.0 713.8 497.1 713.5 498.2 713.3 499.3 713.9 500.4 714.6 501.5 713.7 502.6 713.8 503.7 713.9 504.8 714.6 505.9 713.3 507.0 714.4 508.1 714.8 509.2 714.0 510.3 715.1 511.4 714.7 512.5 714.3 513.6 714.7 514.7 714.0 515.8 714.5 516.9 715.6 518.0 714.4 519.1 715.7 520.2 714.9 521.3 715.4 522.4 715.0 523.5 714.0 524.6 714.8 525.7 715.2 526.8 714.7 527.9 714.6 529.0 715.4 530.1 715.0 531.2 714.6 532.3 715.1 533.4 715.8 534.5 715.2 535.6 715.9 536.5 716.2 537.8 715.6 538.9 715.1 540.0 715.0 541.1 715.6 542.2 716.1 543.3 715.8 544.4 716.0 545.5 715.6 546.6 715.9 547.7 715.6 548.8 715.7 549.9 715.3 551.0 715.2 552.1 715.7 553.2 715.4 554.3 715.5 555.4 716.3 556.5 715.9 557.6 717.2 558.7 716.4 559.8 715.8 560.9 716.4 562.0 716.3 563.1 715.8 564.2 716.6 565.3 715.8 566.4 715.0 567.5 716.6 568.6 716.0 569.7 716.9 570.8 716.0 571.9 715.8 573.0 717.1 574.2 715.9 575.2 716.5 576.3 717.1 577.4 716.6 578.5 716.5 579.6 716.6 580.7 717.0 581.8 716.3 582.9 717.0 584.0 717.0 585.1 717.8 586.2 716.7 587.3 716.5 588.4 717.3 589.5 716.8 590.6 717.2 591.7 717.1 592.8 717.6 593.9 716.9 595.0 717.2 596.1 716.1 597.2 716.9 598.3 718.1 599.4 717.1 600.5 717.1 601.6 717.0 602.7 717.8 603.8 717.7 604.9 717.1 606.0 718.0 607.1 717.8 608.2 718.1 609.3 717.5 610.4 718.6 611.9 718.1 612.6 717.9 613.7 717.7 614.8 717.9 615.9 718.4 617.0 718.0 618.1 718.6 619.2 718.4 620.3 718.8 621.4 718.6 622.5 718.3 623.6 717.5 624.7 718.5 625.8 718.8 626.9 718.5 628.0 718.8 629.1 718.3 630.2 718.4 631.3 718.2 632.4 719.3 633.5 718.8 634.6 718.5 635.7 718.2 636.8 718.7 637.9 719.5 639.0 719.1 640.1 718.6 641.2 719.6 642.3 719.6 643.4 719.4 644.5 719.3 645.6 719.5 646.7 719.2 647.8 719.3 648.9 718.6 649.6 719.7 651.1 719.1 652.2 719.9 653.3 718.1 654.4 719.3 655.5 719.4 656.6 718.8 657.7 719.2 658.8 719.3 659.9 719.3 661.0 718.8 662.1 718.9 663.2 719.5 664.3 719.6 665.4 719.0 666.5 719.0 667.6 719.1 668.7 719.5 669.8 718.5 670.9 718.4 672.0 719.1 673.1 718.5 674.2 718.7 675.3 719.0 676.4 719.2 677.5 718.5 678.6 719.4 679.7 718.2 680.8 719.2 681.9 718.3 683.0 718.4 684.1 719.3 685.2 718.8 686.3 718.6 687.3 718.8 688.5 719.2 689.6 719.0 690.7 719.0 691.8 719.5 692.9 718.7 694.0 718.8 695.1 718.8 696.2 719.5 697.3 719.4 698.4 719.6 699.5 719.0 700.6 718.9 701.7 719.4 702.8 718.8 703.9 719.4 705.0 719.3 706.1 718.7 707.2 719.0 708.3 718.9 709.4 719.8 710.5 720.2 711.6 719.0 712.7 719.0 713.8 718.0 714.9 719.1 716.0 719.0 717.1 718.5 718.2 719.4 719.3 718.3 720.4 718.9 721.5 719.1 722.6 718.4 723.7 719.4 725.0 719.5 725.9 718.4 727.0 718.4 728.1 719.3 729.2 719.0 730.3 718.4 731.4 718.8 732.5 718.9 733.6 718.9 734.7 719.3 735.8 719.1 736.9 719.7 738.0 719.5 739.1 719.1 740.2 719.3 741.3 719.4 742.4 719.1 743.5 718.2 744.6 719.1 745.7 718.7 746.8 719.4 747.9 718.7 749.0 718.8 750.1 718.7 751.2 719.3 752.3 718.6 753.4 718.4 754.5 718.6 755.6 718.2 756.7 718.5 757.8 718.4 758.9 718.5 760.0 719.2 761.1 718.1 762.2 718.3 762.7 718.2 763.3 718.6 764.4 717.7 765.5 718.0 766.6 718.2 767.7 718.5 768.8 718.2 769.9 718.0 771.0 717.8 772.1 718.4 773.2 718.8 774.3 718.3 775.4 718.2 776.5 718.3 777.6 717.7 778.7 718.0 779.8 718.0 780.9 718.2 782.0 718.1 783.1 717.5 784.2 718.6 785.3 718.8 786.4 717.9 787.5 718.2 788.6 718.2 789.7 718.4 790.8 717.3 791.9 718.7 793.0 717.8 794.1 718.5 795.2 718.0 796.3 717.8 797.4 717.9 798.5 718.3 800.0 717.5 800.7 717.7 801.8 717.7 802.9 717.1 804.0 718.4 805.1 718.1 806.2 717.8 807.3 718.3 808.4 717.3 809.5 717.7 810.6 718.5 811.7 718.1 812.8 716.6 813.9 716.4 815.0 717.1 816.1 718.0 817.2 717.3 818.3 717.4 819.4 717.7 820.5 717.0 821.6 717.5 822.7 717.7 823.8 717.5 824.9 717.5 826.0 717.0 827.1 717.5 828.2 717.0 829.3 717.8 830.4 718.3 831.5 716.8 832.6 716.1 833.7 716.9 834.8 717.2 835.9 717.5 837.0 717.5 838.1 716.6 839.2 716.6 840.3 717.5 841.4 716.4 842.1 717.4 843.6 716.8 844.7 717.2 845.8 717.2 846.9 717.2 848.0 717.2 849.1 716.4 850.2 716.9 851.3 716.8 852.4 716.9 853.5 717.3 854.6 716.6 855.7 716.4 856.8 716.4 857.9 716.6 859.0 717.0 860.1 716.3 861.2 717.2 862.3 716.8 863.4 716.5 864.5 716.0 865.6 716.7 866.7 716.9 867.8 715.8 868.9 717.1 870.0 717.3 871.1 716.7 872.2 716.8 873.3 717.6 874.4 717.1 875.5 716.1 876.6 716.5 877.7 716.5 878.8 716.4 879.9 715.4 881.0 716.8 882.1 716.2 883.2 716.5 884.3 716.4 885.4 716.8 886.5 716.3 887.6 716.1 888.7 716.7 889.8 717.0 890.9 716.2 892.0 717.0 893.1 716.5 894.2 716.1 895.3 717.0 896.4 716.0 897.5 716.8 898.6 716.1 899.7 716.5 900.8 715.7 901.9 715.9 903.0 716.7 904.1 716.3 905.2 716.2 906.3 716.0 907.4 716.3 908.5 715.5 909.6 715.6 910.7 716.0 911.8 715.6 912.9 715.7 914.0 715.9 915.1 715.9 916.2 715.8 917.3 716.6 918.4 716.3 919.5 716.3 920.6 715.7 921.7 715.5 922.8 715.0 923.9 715.4 925.0 714.6 926.1 715.2 927.2 715.8 928.3 716.1 929.4 715.8 930.5 714.9 931.6 715.5 932.7 714.9 933.8 715.5 934.9 715.1 936.0 715.5 937.1 716.2 938.2 715.4 939.3 716.0 940.4 714.9 941.5 714.7 942.6 715.4 943.7 715.5 944.8 714.4 945.9 714.6 947.0 713.9 948.1 714.4 949.2 714.9 950.3 714.4 951.4 714.1 952.5 713.7 953.6 714.4 954.7 714.6 955.8 714.4 956.9 714.2 958.0 713.5 959.1 714.8 960.2 714.0 961.3 713.9 962.4 714.3 963.5 712.9 964.6 713.8 965.7 713.8 966.2 714.0 966.8 714.4 967.9 714.0 969.0 712.9 970.1 713.5 971.2 713.7 972.3 713.7 973.4 713.0 974.5 712.8 975.6 713.8 976.7 713.7 977.8 713.5 978.9 712.7 980.0 714.2 981.1 712.2 982.2 713.2 983.3 714.3 984.4 713.3 985.5 713.4 986.6 712.8 987.7 713.9 988.8 712.7 989.9 713.3 991.0 713.2 992.1 712.7 993.2 713.5 994.3 712.5 995.4 712.8 996.5 713.1 997.6 712.9 998.7 713.2 999.8 713.4 1000.9 712.8 1002.0 712.7 1003.1 712.7 1004.2 712.7 1005.3 713.2 1006.4 712.8 1007.5 713.0 1008.6 712.8 1009.7 712.4 1010.8 713.1 1011.9 712.2 1013.0 712.7 1014.1 713.3 1015.2 712.1 1016.3 712.6 1017.4 711.8 1018.5 712.3 1019.6 711.8 1020.7 712.3 1021.8 712.2 1022.9 712.4 1024.0 713.1 1025.1 712.4 1026.2 712.6 1027.3 712.2 1028.2 712.1 1029.5 711.8 1030.6 711.3 1031.7 712.1 1032.8 712.7 1033.9 712.2 1035.0 711.7 1036.1 712.6 1037.2 711.6 1038.3 711.5 1039.4 711.1 1040.5 711.2 1041.6 711.5 1042.7 712.4 1043.8 711.3 1044.9 710.9 1046.0 711.0 1047.1 711.1 1048.2 710.4 1049.3 711.2 1050.4 711.3 1051.5 711.1 1052.6 711.1 1053.7 710.2 1054.8 709.9 1055.9 711.2 1057.0 711.1 1058.1 709.8 1059.2 710.5 1060.3 710.3 1061.4 710.5 1062.5 710.2 1063.6 709.8 1064.7 710.1 1065.8 710.0 1066.9 709.8 1068.0 708.8 1069.1 708.4 1070.2 709.1 1071.3 708.6 1072.4 709.5 1073.5 709.6 1074.6 709.3 1075.7 708.9 1076.8 709.0 1077.9 709.4 1079.0 708.4 1080.1 709.1 1081.2 708.9 1082.3 708.6 1083.2 709.1" fill="none" stroke="#088080" stroke-width="3.4" stroke-linejoin="round"/>
</g>
<g clip-path="url(#cb)">
<path d="M1332.9 686.0 1333.3 661.8 1334.2 653.7 1335.5 647.3 1336.2 642.7 1337.2 642.0 1338.4 639.1 1338.9 639.1 1339.5 635.9 1340.6 635.8 1341.7 633.5 1342.2 634.0 1342.8 631.3 1343.9 629.0 1345.0 624.1 1346.5 624.7 1347.2 617.7 1348.3 617.8 1349.2 612.8 1350.5 606.5 1351.6 601.2 1352.5 596.3 1353.8 588.8 1354.5 584.3 1356.1 582.4 1357.1 578.5 1358.2 583.1 1359.2 584.3 1360.4 591.3 1361.8 593.7 1362.6 598.5 1363.7 602.3 1365.1 603.3 1365.9 608.2 1367.0 609.5 1368.1 612.4 1369.1 613.2 1370.3 611.2 1371.4 611.8 1372.5 612.9 1373.6 614.3 1374.7 614.5 1375.8 612.6 1376.9 612.6 1378.0 612.0 1379.1 611.7 1380.2 611.5 1381.3 611.1 1382.4 613.4 1383.5 609.8 1384.6 609.8 1385.7 610.5 1386.8 608.4 1387.9 608.9 1389.1 609.0 1390.1 609.7 1391.2 606.8 1392.3 609.9 1393.4 607.4 1394.5 607.7 1395.6 608.3 1396.7 607.7 1397.7 607.9 1398.9 606.3 1400.0 605.6 1401.1 605.5 1402.2 603.3 1403.3 605.6 1404.4 602.4 1405.5 601.2 1406.6 604.9 1407.7 601.5 1408.8 599.5 1409.9 602.8 1411.0 599.4 1412.1 600.6 1413.2 597.6 1414.3 597.8 1415.5 595.4 1416.5 594.6 1417.6 595.4 1418.7 596.2 1419.8 596.9 1420.9 598.6 1422.0 593.6 1423.1 595.9 1424.2 593.4 1425.3 593.5 1426.4 591.4 1427.5 590.9 1428.6 591.5 1429.7 590.5 1430.8 591.6 1431.9 590.2 1433.2 592.3 1434.1 590.4 1435.2 589.9 1436.3 590.7 1437.4 589.3 1438.5 588.0 1439.6 587.4 1440.7 586.8 1441.8 587.9 1442.9 586.9 1444.0 585.7 1445.1 585.8 1446.2 583.3 1447.3 584.2 1448.4 581.0 1449.5 584.3 1451.0 581.8 1451.7 581.6 1452.8 581.7 1453.9 580.3 1455.0 579.5 1456.1 581.0 1457.2 579.0 1458.3 577.1 1459.4 578.5 1460.5 575.0 1461.6 579.3 1462.7 576.2 1463.8 576.0 1464.9 578.7 1466.0 578.0 1467.1 574.6 1468.2 574.8 1468.7 575.2 1469.3 575.8 1470.4 572.7 1471.5 572.6 1472.6 573.6 1473.7 571.7 1474.8 571.9 1475.9 571.2 1477.0 568.2 1478.1 568.0 1479.2 565.0 1480.3 567.8 1481.4 569.5 1482.5 565.4 1483.6 568.2 1484.7 567.2 1485.8 565.1 1486.4 564.8 1486.9 564.6 1488.0 562.5 1489.1 562.6 1490.2 562.1 1491.3 562.3 1492.4 561.7 1493.5 558.5 1494.6 559.9 1495.7 556.7 1496.8 556.7 1497.9 556.6 1499.0 555.1 1500.1 554.1 1501.2 553.9 1502.3 551.9 1503.4 551.0 1504.2 551.2 1505.6 552.2 1506.7 550.0 1507.8 552.5 1508.9 549.4 1510.0 544.6 1511.1 547.4 1512.2 550.2 1513.3 547.2 1514.4 546.0 1515.5 544.9 1516.6 547.7 1517.7 546.7 1518.8 545.6 1519.9 544.6 1521.0 545.5 1521.9 544.0 1523.2 539.7 1524.3 541.6 1525.4 539.5 1526.5 537.9 1528.0 538.2 1528.7 536.7 1529.8 532.1 1530.9 538.2 1532.0 537.1 1533.1 534.9 1534.2 534.2 1535.3 534.9 1536.4 532.3 1537.5 534.5 1538.6 533.5 1539.7 533.0 1540.8 531.9 1541.9 532.0 1543.0 534.5 1544.1 534.6 1545.2 532.9 1546.6 531.5 1547.4 529.9 1548.5 531.9 1549.6 532.8 1550.7 527.1 1551.8 531.0 1552.9 525.0 1554.0 527.3 1555.1 527.7 1556.2 524.2 1557.3 523.2 1558.4 525.2 1559.5 525.5 1560.6 522.5 1562.1 524.4 1562.8 520.4 1563.9 523.5 1565.0 519.8 1566.1 518.9 1567.2 518.2 1568.3 516.5 1569.4 517.7 1570.5 516.9 1571.6 512.8 1572.7 510.2 1573.8 507.2 1574.9 506.5 1576.0 506.5 1577.1 505.0 1578.2 504.0 1579.3 502.9 1580.4 502.8 1581.5 498.7 1582.6 498.5 1583.9 501.4 1584.8 500.5 1585.9 497.7 1587.0 500.4 1588.1 496.6 1589.2 497.0 1590.3 494.0 1591.4 498.2 1592.5 496.5 1593.6 498.0 1594.7 497.1 1595.8 495.7 1596.9 495.5 1598.0 497.0 1599.1 494.3 1600.0 494.0 1601.3 493.8 1602.4 494.7 1603.5 494.5 1604.6 495.7 1605.7 491.8 1606.8 493.7 1607.9 489.9 1609.0 491.7 1610.1 490.4 1611.2 492.7 1612.3 490.2 1613.4 487.9 1614.5 489.2 1615.6 488.2 1616.7 486.6 1617.8 486.1 1618.9 484.4 1620.0 490.0 1621.1 485.2 1622.2 486.1 1623.3 481.8 1624.4 481.3 1625.5 482.3 1626.6 481.7 1627.7 482.7 1628.8 478.9 1629.9 480.9 1631.0 482.0 1632.1 476.9 1633.2 479.5 1634.3 475.5 1635.4 477.1 1636.5 476.4 1637.6 478.2 1638.7 473.1 1639.8 474.0 1640.9 474.9 1642.0 470.3 1643.1 471.7 1644.3 469.5 1645.3 469.3 1646.4 471.2 1647.5 470.7 1648.6 473.5 1649.7 470.9 1650.8 470.2 1651.9 467.0 1653.0 466.3 1654.1 466.6 1655.2 461.7 1656.3 468.3 1657.4 463.6 1658.5 462.3 1659.6 462.9 1660.7 464.8 1661.8 464.9 1662.9 461.4 1664.0 462.2 1665.1 460.7 1666.5 458.1 1667.3 459.8 1668.4 458.8 1669.5 455.1 1670.6 459.2 1671.7 453.4 1672.8 455.9 1673.9 452.6 1675.0 452.2 1676.1 451.5 1677.2 453.1 1678.3 448.5 1679.4 449.6 1680.5 451.9 1681.6 446.7 1682.7 447.0 1683.8 447.4 1684.9 444.1 1686.0 445.2 1687.1 442.1 1688.2 443.8 1688.7 442.3 1689.3 439.9 1690.4 443.5 1691.5 439.8 1692.6 438.6 1693.7 436.6 1694.8 436.6 1695.9 436.5 1697.0 436.2 1698.1 437.2 1699.2 431.8 1700.3 432.8 1701.4 435.0 1702.5 432.2 1703.6 431.8 1704.7 433.3 1705.8 430.1 1706.9 429.5 1708.0 427.7 1709.1 430.4 1710.2 428.1 1710.9 424.1 1712.4 425.3 1713.5 421.1 1715.0 424.3 1715.7 423.2 1716.8 421.0 1717.9 420.0 1719.0 416.8 1720.1 421.4 1721.2 419.3 1722.3 418.5 1723.4 420.2 1724.5 417.0 1725.6 416.8 1726.1 416.3 1726.7 414.8 1727.8 421.8 1728.9 416.2 1730.0 415.5 1731.1 417.5 1732.2 410.1 1733.3 414.7 1734.4 414.3 1735.5 411.8 1736.6 414.0 1737.2 408.7 1737.7 412.3 1738.8 413.1 1739.9 405.8 1741.0 406.1 1742.1 407.4 1742.7 407.0 1743.2 405.2 1744.3 405.8 1745.4 404.1 1746.5 399.4 1747.6 400.4 1748.7 396.6 1749.8 393.5 1751.0 391.4 1752.0 397.3 1753.1 393.7 1754.2 396.8 1755.3 388.6 1756.4 389.8 1757.5 390.2 1758.6 388.3 1759.4 389.0 1760.8 387.2 1761.9 385.0 1763.0 380.8 1764.1 383.0 1765.2 387.9 1766.3 385.3 1767.4 386.0 1768.5 381.3 1769.6 381.4 1770.5 379.4 1771.8 381.0 1772.9 379.5 1774.0 379.3 1775.1 381.1 1776.2 374.6 1777.3 376.8 1778.4 371.3 1779.5 375.5 1780.6 371.3 1781.7 371.1 1782.8 370.7 1784.3 372.7 1785.0 368.7 1786.1 367.1 1787.2 365.0 1788.3 367.5 1789.4 364.5 1790.5 364.7 1791.6 365.0 1792.7 365.8 1793.2 362.4 1793.8 364.9 1794.9 366.1 1796.0 357.9 1797.1 362.5 1798.2 362.8 1799.3 355.4 1800.4 356.6 1801.5 351.0 1802.1 354.0 1802.6 352.0 1803.7 352.2 1804.8 348.4 1805.9 347.5 1807.0 347.3 1808.1 345.6 1809.2 344.8 1810.3 344.7 1811.4 341.7 1812.5 342.7 1813.6 343.1 1814.7 336.0 1815.8 340.4 1816.9 337.3 1818.0 335.5 1819.1 333.9 1819.8 334.3 1821.3 333.0 1822.4 334.2 1823.5 329.5 1824.6 333.4 1825.7 328.2 1826.8 330.4 1827.9 330.3 1828.7 324.4 1830.1 328.4 1831.2 330.0 1832.3 323.3 1833.4 324.7 1834.5 322.3 1835.6 322.0 1836.7 320.7 1837.8 319.2 1838.9 321.2 1840.0 320.8 1841.1 318.1 1842.2 320.7 1843.3 319.0 1844.4 317.4 1845.5 313.4 1846.4 318.7 1847.7 316.5 1848.8 307.9 1849.9 309.5 1851.0 310.2 1852.1 312.8 1853.2 312.7 1854.3 308.5 1855.4 309.1 1856.5 309.4 1857.6 304.1 1858.7 307.6 1859.8 304.8 1860.9 305.1 1862.0 303.8 1863.1 300.3 1864.2 299.8 1865.3 301.2 1866.4 300.5 1867.5 298.5 1868.6 300.5 1869.7 296.1 1870.8 293.0 1871.9 293.7 1873.0 292.8 1874.1 291.5 1875.2 292.9 1876.3 289.7 1877.4 289.1 1878.5 286.3 1879.6 282.6 1880.7 283.5 1881.9 278.4 1882.9 277.8 1884.0 272.8 1885.1 273.3 1886.2 270.1 1887.3 269.7 1888.4 271.1 1889.5 270.6 1890.8 265.6 1891.7 261.9 1892.8 262.7 1893.9 260.1 1895.0 257.0 1896.1 257.3 1897.2 255.8 1898.3 254.0 1899.6 257.6 1900.5 252.1 1901.6 251.2 1902.7 253.1 1903.8 248.7 1904.9 246.7 1906.0 246.5 1907.1 248.8 1908.2 247.6 1909.3 246.5 1910.4 243.8 1911.5 241.7 1912.6 245.2 1913.7 238.5 1914.8 240.6 1915.9 236.9 1917.0 238.1 1918.1 237.7 1919.6 239.6 1920.3 229.4 1921.4 238.0 1922.5 231.3 1923.6 233.0 1924.7 233.0 1925.8 227.8 1926.9 228.2 1928.0 228.3 1929.1 225.4 1930.2 222.5 1931.3 223.4 1932.4 221.8 1933.5 216.4 1934.6 222.0 1935.1 218.5 1935.7 211.1 1936.8 213.6 1937.9 218.4 1939.0 216.5 1940.1 211.5 1941.2 204.9 1942.3 206.9 1943.4 208.4 1944.5 205.0 1945.6 201.4 1947.0 198.0 1947.8 200.6 1948.9 196.0 1950.0 195.4 1951.1 193.7 1952.2 194.6 1953.3 188.8 1954.0 187.8 1955.5 179.8 1956.6 185.3 1957.7 182.7 1958.8 178.4 1959.9 170.6 1961.0 173.1 1962.1 172.9 1963.2 176.4 1964.3 170.8 1965.6 169.4 1966.5 168.2 1967.6 168.1 1968.7 160.2 1969.8 159.6 1970.9 157.4 1972.0 158.4 1973.1 157.0 1974.2 157.0 1975.3 152.8 1976.4 154.5 1977.3 151.0 1978.6 157.5 1979.7 149.4 1980.8 156.5 1981.9 153.0 1983.0 144.4 1984.1 149.2 1985.2 147.2 1986.3 140.3 1987.4 145.0 1988.9 141.4 1989.6 141.8 1990.7 137.3 1991.8 138.1 1992.9 138.1 1994.0 135.1 1995.1 132.5 1996.2 132.3 1997.3 128.5 1998.4 130.5 1999.5 121.1 2000.5 130.6 2001.7 124.7 2002.8 123.8 2003.9 122.7 2005.0 114.8 2006.1 122.3 2007.2 110.8 2008.3 113.0 2009.8 110.0 2010.5 111.6 2011.6 106.2 2013.0 100.2 2013.8 103.7 2014.9 94.1 2016.0 98.5" fill="none" stroke="#ff8000" stroke-width="3.5" stroke-linejoin="round"/>
<path d="M1332.9 717.6 1333.9 706.8 1335.1 704.9 1336.2 704.0 1336.7 703.9 1337.3 702.6 1338.4 701.1 1339.5 700.0 1340.6 699.9 1341.1 699.9 1341.7 698.2 1342.8 695.3 1343.9 693.5 1345.0 693.2 1345.5 691.1 1346.1 688.5 1347.2 687.5 1348.3 684.1 1348.9 682.7 1349.4 681.0 1350.5 675.6 1351.6 670.4 1352.7 662.1 1353.9 652.7 1354.9 645.9 1355.7 643.0 1357.1 641.9 1358.3 645.7 1359.3 648.2 1360.4 654.0 1361.1 656.3 1362.6 665.3 1363.8 671.0 1364.8 674.4 1365.9 677.3 1366.6 679.7 1368.1 682.7 1369.2 684.7 1370.5 687.9 1371.4 687.8 1372.5 690.5 1373.6 690.9 1374.7 689.6 1375.8 691.9 1376.6 691.3 1378.0 692.8 1379.1 693.3 1380.2 692.3 1381.3 694.0 1382.4 694.4 1383.5 695.5 1384.6 694.2 1385.5 695.7 1386.8 694.5 1387.9 695.2 1389.0 694.9 1390.1 696.6 1391.2 696.0 1392.3 697.4 1393.4 696.2 1394.5 696.4 1395.6 696.4 1396.6 695.4 1397.8 695.7 1398.9 696.7 1400.0 695.5 1401.1 695.8 1402.2 695.6 1403.3 696.0 1404.4 695.3 1405.5 695.3 1406.6 695.5 1407.7 695.3 1408.8 694.6 1409.9 695.7 1411.0 694.0 1412.1 694.0 1413.2 693.8 1414.3 695.3 1415.4 694.3 1416.5 693.7 1417.6 693.5 1418.7 694.5 1419.8 693.3 1420.9 693.0 1422.0 694.3 1423.1 692.9 1424.2 693.4 1425.3 693.5 1426.4 693.1 1427.5 693.3 1428.6 694.2 1430.0 692.8 1430.8 692.3 1431.9 691.8 1433.0 692.9 1434.1 692.8 1435.2 693.2 1436.3 692.6 1437.4 692.5 1438.5 692.3 1439.6 692.4 1440.5 692.8 1441.8 692.2 1442.9 692.4 1444.0 693.4 1445.1 692.0 1446.2 690.0 1447.3 692.1 1448.4 690.6 1449.5 689.3 1450.6 690.3 1451.1 689.5 1451.7 688.9 1452.8 688.6 1453.9 688.0 1455.0 688.6 1456.1 689.1 1457.2 687.8 1458.3 688.1 1459.4 688.9 1460.5 686.3 1461.6 687.1 1462.7 686.3 1463.8 685.4 1464.9 685.1 1466.0 685.5 1467.1 685.5 1468.0 684.4 1469.3 684.3 1470.4 684.2 1471.5 683.4 1472.7 683.7 1473.7 683.6 1474.8 684.0 1475.9 685.6 1476.5 684.8 1477.0 684.5 1478.1 685.1 1479.2 684.0 1480.6 684.5 1481.4 685.4 1482.5 685.2 1483.6 685.9 1484.7 684.6 1485.8 683.3 1486.9 685.9 1488.0 685.1 1489.0 683.4 1490.2 685.2 1491.3 684.1 1492.4 682.6 1493.5 683.7 1494.6 683.5 1495.7 685.1 1496.8 683.2 1497.9 683.5 1498.5 683.5 1499.0 683.4 1500.1 682.8 1501.2 683.5 1502.3 684.0 1503.4 683.5 1504.5 682.0 1505.6 681.6 1506.7 682.3 1507.8 681.4 1509.0 681.1 1510.0 680.0 1511.1 682.6 1512.2 681.4 1513.3 679.5 1514.4 680.6 1515.5 680.5 1516.6 676.9 1517.4 678.0 1518.8 676.9 1519.9 676.6 1521.0 674.8 1521.5 674.3 1522.1 674.0 1523.2 674.8 1524.3 674.5 1524.8 672.2 1525.4 671.8 1526.5 674.9 1527.6 671.9 1528.7 672.4 1529.8 673.0 1531.1 673.6 1532.0 674.3 1533.1 674.3 1534.2 673.8 1535.3 675.6 1536.4 676.0 1537.5 677.7 1538.5 676.3 1539.7 675.2 1540.8 675.4 1541.9 677.5 1543.0 675.8 1544.1 674.4 1545.2 675.7 1546.3 676.1 1547.4 677.0 1548.5 675.1 1549.6 676.5 1551.1 676.5 1551.8 675.1 1552.9 675.4 1554.0 676.7 1555.1 676.3 1556.2 675.1 1557.3 674.2 1558.4 674.4 1559.5 672.8 1560.6 672.4 1561.6 671.4 1562.8 671.7 1563.9 671.2 1565.0 673.1 1566.1 670.3 1567.2 671.1 1568.3 670.7 1569.4 669.0 1570.5 669.7 1571.6 666.3 1572.2 668.0 1572.7 668.4 1573.8 664.9 1574.9 665.3 1576.0 666.6 1577.1 664.7 1578.2 663.3 1579.6 663.4 1580.4 662.9 1581.5 663.7 1582.6 663.1 1583.7 662.1 1584.8 661.4 1585.9 661.7 1587.0 662.9 1588.0 661.9 1589.2 662.3 1590.3 661.9 1591.4 661.3 1592.5 662.3 1593.6 664.0 1594.7 664.0 1595.3 663.4 1595.8 662.9 1596.9 665.0 1598.0 665.2 1599.1 665.7 1600.2 666.3 1601.3 667.3 1602.4 667.8 1603.8 668.8 1604.6 668.9 1605.7 669.4 1606.8 669.2 1607.9 668.4 1609.0 668.8 1610.1 669.4 1611.2 668.9 1612.3 669.8 1613.4 670.4 1614.5 668.8 1615.6 668.1 1616.7 670.7 1617.8 669.8 1618.9 670.4 1620.0 668.6 1621.1 671.3 1622.2 670.4 1623.3 669.6 1624.4 669.4 1625.5 669.7 1626.6 669.4 1627.7 669.2 1628.8 668.4 1629.9 670.4 1631.0 669.2 1632.1 669.2 1633.2 669.1 1634.3 666.8 1635.4 669.3 1636.5 668.4 1637.6 668.3 1638.7 668.6 1639.8 667.5 1640.9 669.0 1642.2 667.6 1643.1 667.3 1644.2 667.3 1645.3 668.1 1646.4 668.5 1647.5 667.3 1648.6 666.4 1649.7 668.6 1650.8 666.6 1651.9 668.5 1653.0 667.4 1654.1 666.7 1655.2 666.7 1656.3 667.5 1657.4 667.8 1658.5 666.8 1659.6 667.7 1660.7 668.6 1661.8 666.5 1662.9 665.5 1664.3 665.5 1665.1 665.1 1666.2 665.6 1667.3 665.4 1668.4 664.7 1669.5 666.2 1670.6 663.3 1671.7 664.3 1672.8 667.1 1673.9 666.0 1675.0 665.4 1676.1 665.2 1677.2 666.2 1678.3 664.9 1679.4 664.3 1680.5 662.9 1681.6 663.8 1682.7 663.0 1683.8 662.9 1684.9 662.7 1686.0 663.1 1686.5 662.8 1687.1 663.8 1688.2 661.6 1689.3 662.5 1690.4 664.2 1691.5 662.3 1692.6 663.2 1693.7 663.0 1694.8 662.9 1695.9 662.2 1697.0 660.1 1698.1 660.9 1699.2 660.6 1700.3 659.4 1701.4 660.2 1702.5 659.3 1703.6 658.8 1704.7 660.4 1705.8 660.0 1706.9 659.3 1708.0 659.0 1708.7 659.3 1710.2 659.3 1711.3 659.2 1712.4 659.5 1713.5 659.1 1714.6 659.8 1715.7 659.9 1716.8 659.7 1717.9 658.7 1719.0 658.7 1720.1 659.6 1721.2 659.0 1722.3 659.1 1723.4 656.8 1724.5 656.6 1725.6 659.3 1726.7 659.3 1727.8 660.2 1728.9 659.5 1730.0 659.0 1730.9 658.7 1732.2 657.3 1733.3 659.3 1734.4 657.8 1735.5 658.7 1736.6 658.3 1737.7 658.2 1738.8 658.6 1739.9 657.1 1741.0 657.1 1742.1 656.4 1743.2 656.7 1744.3 658.4 1745.4 656.3 1746.5 657.6 1747.6 657.1 1748.7 656.8 1749.8 656.6 1750.9 654.7 1752.0 655.8 1753.0 656.8 1754.2 654.4 1755.3 654.8 1756.4 654.0 1757.5 654.8 1758.6 653.2 1759.7 655.6 1760.8 653.4 1761.9 652.1 1763.0 655.1 1764.1 654.0 1765.2 653.4 1766.3 653.1 1767.4 652.1 1768.5 652.0 1769.6 652.7 1770.7 652.6 1771.8 652.4 1772.9 651.5 1774.0 650.7 1775.2 650.7 1776.2 651.8 1777.3 652.0 1778.4 650.0 1779.5 649.7 1780.6 651.3 1781.7 650.6 1782.8 650.4 1783.9 648.3 1785.0 649.1 1786.1 648.8 1787.2 649.3 1788.3 647.3 1789.4 650.1 1790.5 649.0 1791.6 648.9 1792.7 647.2 1793.8 648.2 1794.9 649.3 1796.0 646.3 1797.4 647.9 1798.2 648.2 1799.3 646.6 1800.4 647.9 1801.5 646.5 1802.6 647.8 1803.7 646.9 1804.8 646.4 1805.9 647.9 1807.0 646.5 1808.1 646.8 1809.2 644.0 1810.3 644.3 1811.4 645.6 1812.5 645.4 1813.6 644.2 1814.7 644.8 1815.8 642.7 1816.9 643.8 1818.0 642.2 1819.1 643.5 1819.6 642.6 1820.2 642.3 1821.3 642.9 1822.4 644.5 1823.5 641.4 1824.6 641.7 1825.7 643.2 1826.8 641.5 1827.9 643.6 1829.0 641.9 1830.1 641.6 1831.2 641.7 1832.3 643.0 1833.4 641.7 1834.5 641.4 1835.6 641.0 1836.7 639.0 1837.8 639.5 1838.9 641.8 1840.0 640.9 1841.1 640.4 1841.7 640.5 1842.2 639.2 1843.3 639.9 1844.4 638.4 1845.5 639.5 1846.6 638.2 1847.7 638.5 1848.8 639.0 1849.9 637.9 1851.0 638.7 1852.1 638.3 1853.2 638.0 1854.3 638.8 1855.4 635.6 1856.5 635.2 1857.6 637.3 1858.7 637.4 1859.8 638.3 1860.9 636.8 1862.0 636.7 1863.1 634.6 1863.9 636.2 1865.3 635.8 1866.4 633.8 1867.5 633.8 1868.6 634.4 1869.7 634.6 1870.8 631.3 1871.9 634.0 1873.0 633.9 1874.1 633.3 1875.2 633.5 1876.3 633.5 1877.4 631.7 1878.5 633.1 1879.6 632.1 1880.7 631.2 1881.8 632.2 1882.9 633.3 1884.0 629.9 1885.1 629.4 1886.1 629.2 1887.3 632.8 1888.4 630.2 1889.5 630.1 1890.6 629.0 1891.7 628.5 1892.8 627.0 1893.9 629.1 1895.0 628.8 1896.1 626.1 1897.2 626.7 1898.3 626.7 1899.4 627.2 1900.5 627.1 1901.6 627.8 1902.7 627.7 1903.8 627.1 1904.9 627.1 1906.0 624.0 1907.1 624.4 1908.2 626.0 1909.3 624.8 1910.0 624.3 1911.5 621.8 1912.6 621.7 1913.7 624.4 1914.8 623.7 1915.9 622.8 1917.0 622.5 1918.1 620.8 1919.2 623.0 1920.3 623.6 1921.4 624.1 1922.5 622.1 1923.6 621.7 1924.7 620.5 1925.8 622.9 1926.9 623.3 1928.0 620.5 1929.1 621.4 1930.2 621.0 1931.3 620.1 1932.4 617.7 1933.5 619.9 1934.6 620.8 1935.7 618.3 1936.8 618.8 1937.9 616.5 1939.0 620.7 1940.1 619.6 1941.0 618.9 1942.3 618.2 1943.4 617.4 1944.5 617.8 1945.6 617.1 1946.7 616.8 1947.8 616.7 1948.9 616.5 1950.0 617.7 1951.1 613.9 1952.2 615.4 1953.3 613.9 1954.4 612.9 1955.5 611.0 1956.6 614.0 1957.7 611.7 1958.8 611.5 1959.9 612.5 1961.0 610.2 1962.1 611.1 1963.2 610.5 1964.3 611.1 1965.4 610.9 1966.5 608.3 1967.6 610.1 1968.7 608.5 1969.8 608.4 1970.9 607.7 1972.1 608.5 1973.1 605.9 1974.2 607.4 1975.3 608.2 1976.4 606.2 1977.5 608.7 1978.6 605.2 1979.7 606.1 1980.8 605.0 1981.9 604.6 1983.0 603.8 1984.1 604.3 1985.2 604.7 1986.3 603.6 1987.4 605.4 1988.5 606.0 1989.6 602.1 1990.7 604.8 1991.8 603.8 1992.9 603.6 1994.0 606.1 1995.1 604.3 1996.2 603.1 1997.3 602.6 1998.4 599.6 1999.5 602.9 2000.6 600.8 2001.7 601.6 2003.1 601.1 2003.9 601.9 2005.0 602.9 2006.1 601.3 2007.2 601.3 2008.3 599.0 2009.4 599.5 2010.5 599.4 2011.6 596.3 2012.7 600.1 2013.8 596.3 2014.9 595.1 2016.0 598.2 2017.1 598.3 2018.2 594.4 2019.3 594.0 2020.4 597.5 2021.5 593.9 2022.6 590.8 2023.7 592.0 2024.8 594.8 2025.9 592.6 2027.0 592.3 2028.1 592.4 2029.2 591.3 2030.3 589.6 2031.4 587.6 2032.5 589.7 2033.6 587.4 2034.1 588.5 2034.7 590.6 2035.8 588.7 2036.9 587.7 2038.0 587.4 2039.1 587.9 2040.2 587.8 2041.3 584.6 2042.4 586.2 2043.5 587.8 2044.6 586.3 2045.7 584.0 2046.8 583.8 2047.9 581.7 2049.0 583.0 2050.1 585.8 2051.2 583.3 2052.3 582.0 2053.4 582.1 2054.5 582.4 2055.6 582.1 2056.7 581.4 2057.8 580.6 2058.9 582.1 2060.0 582.9 2061.1 579.8 2062.2 579.5 2063.3 581.5 2064.4 577.6 2065.2 578.5 2066.6 578.4 2067.7 578.7 2068.8 577.8 2069.9 576.6 2071.0 577.8 2072.1 575.5 2073.2 574.4 2074.3 573.6 2075.4 576.9 2076.5 573.3 2077.6 575.8 2078.7 575.7 2079.8 575.5 2080.9 573.8 2082.0 572.9 2083.1 573.4 2084.2 572.1 2085.3 570.8 2086.4 573.8 2087.5 570.5 2088.6 573.7 2089.7 571.6 2090.8 569.9 2091.9 570.6 2093.0 571.3 2094.1 567.4 2095.2 567.5 2096.2 567.0 2097.4 568.1 2098.5 568.0 2099.6 567.1 2100.7 565.6 2101.8 565.4 2102.9 567.3 2104.0 566.7 2105.1 564.9 2106.2 562.4 2107.3 564.6 2108.4 563.6 2109.5 563.1 2110.6 564.6 2111.7 562.9 2112.8 559.9 2113.9 559.4 2115.0 562.1 2116.1 560.0 2117.2 560.4 2118.3 558.6 2119.4 556.9 2120.5 558.1 2121.6 559.4 2122.7 557.2 2123.8 554.6 2124.9 555.2 2126.0 554.5 2127.2 554.8 2128.2 555.6 2129.3 556.4 2130.4 553.4 2131.5 552.0 2132.6 552.2 2133.7 551.6 2134.8 550.5 2135.9 550.6 2137.0 550.0 2138.1 547.8 2139.2 549.8 2140.3 548.0 2141.4 546.5 2142.5 548.1 2143.6 546.2 2144.7 548.8 2145.8 546.5 2146.9 545.3 2148.0 543.6 2149.1 543.5 2150.2 544.8 2151.3 542.0 2152.4 543.5 2153.5 538.7 2154.6 541.5 2155.7 541.7 2156.8 540.4 2158.2 539.1 2159.0 540.1 2160.1 536.7 2161.2 535.8 2162.3 536.7 2163.4 537.6 2164.5 535.7 2165.6 534.0 2166.7 533.9 2167.8 533.3 2168.9 530.0 2170.0 527.0 2171.1 528.7 2172.2 527.1 2173.3 527.6 2174.4 525.9 2175.5 525.5 2176.6 526.7 2177.7 525.3 2178.8 524.3 2179.9 526.1 2181.0 522.1 2182.1 521.4 2183.2 523.1 2184.3 518.8 2185.4 517.2 2186.5 521.0 2187.6 518.9 2188.7 518.6 2189.3 518.3 2189.8 518.4 2190.9 515.7 2192.0 515.7 2193.1 513.5 2194.2 514.8 2195.3 514.4 2196.4 512.8 2197.5 513.9 2198.6 516.2 2199.7 510.0 2200.8 512.5 2201.9 512.2 2203.0 511.8 2204.1 508.4 2205.2 511.0 2206.3 509.7 2207.4 508.0 2208.5 507.1 2209.6 507.6 2210.7 508.2 2211.8 507.7 2213.2 509.3" fill="none" stroke="#d51010" stroke-width="3.4" stroke-linejoin="round"/>
<path d="M1333.0 735.4 1334.1 733.1 1335.2 729.2 1335.9 729.1 1337.4 728.2 1338.5 727.7 1339.6 726.7 1340.7 726.1 1341.2 725.1 1341.8 724.3 1343.3 721.1 1344.0 719.4 1345.1 718.0 1346.5 716.2 1347.3 713.8 1348.4 711.3 1348.9 709.7 1349.5 707.9 1350.5 703.0 1351.7 696.4 1352.2 691.5 1352.8 687.0 1353.9 679.0 1354.4 676.2 1355.0 671.9 1356.4 667.5 1357.2 670.8 1358.3 675.5 1358.8 679.3 1359.4 681.4 1360.5 686.4 1361.1 689.1 1361.6 691.9 1362.7 696.7 1363.8 702.5 1364.4 704.0 1364.9 706.0 1366.0 709.6 1367.1 713.4 1367.8 714.5 1369.3 715.8 1369.9 717.7 1370.4 717.3 1371.5 719.3 1372.6 721.2 1373.1 722.2 1373.7 721.9 1374.8 722.8 1375.9 723.1 1377.0 722.9 1378.1 724.2 1379.2 724.7 1379.8 724.4 1380.3 724.7 1381.4 724.5 1382.5 725.0 1383.6 725.8 1384.7 726.6 1385.8 726.6 1386.4 727.1 1386.9 727.6 1388.0 727.7 1389.1 728.3 1390.2 729.1 1391.3 728.4 1392.4 729.5 1393.1 728.5 1394.6 729.7 1395.7 729.7 1396.8 729.5 1397.9 729.4 1399.0 729.9 1399.7 729.8 1401.2 730.2 1402.3 729.9 1403.4 730.6 1404.5 730.0 1405.6 730.4 1406.7 730.5 1407.8 731.3 1408.9 730.3 1410.0 730.8 1411.1 731.5 1412.2 730.9 1413.3 730.8 1414.4 731.5 1415.5 731.3 1416.6 731.9 1417.7 731.2 1418.8 731.8 1419.9 732.0 1421.0 732.2 1422.1 731.4 1423.2 732.5 1424.3 731.6 1425.4 731.4 1426.5 731.7 1427.6 732.1 1428.7 732.0 1430.0 732.3 1430.9 732.3 1432.0 732.2 1433.1 731.9 1434.2 732.7 1435.3 731.0 1436.4 731.0 1437.5 731.4 1438.6 731.0 1439.7 730.3 1440.8 730.9 1441.9 730.7 1443.0 729.9 1444.1 731.0 1445.2 731.0 1446.3 730.8 1447.4 729.9 1448.5 730.0 1449.6 729.3 1451.1 729.6 1451.8 729.1 1452.9 729.4 1454.0 728.9 1455.1 729.2 1456.2 728.9 1457.3 728.9 1458.4 727.5 1459.5 727.2 1460.6 727.8 1461.7 727.2 1462.8 727.4 1463.9 727.1 1465.0 726.8 1466.0 726.9 1467.2 726.4 1468.3 726.0 1469.4 725.2 1470.5 726.0 1471.6 725.3 1472.7 725.8 1473.8 726.0 1474.9 726.9 1476.0 726.9 1477.1 727.2 1478.2 727.5 1479.3 727.5 1480.4 727.8 1481.5 728.2 1482.7 728.5 1483.7 728.3 1484.8 729.8 1485.9 728.7 1487.0 729.2 1488.1 730.5 1489.2 729.4 1490.3 730.1 1491.4 730.2 1492.5 729.9 1493.2 729.4 1494.7 729.4 1495.8 730.0 1496.9 730.1 1498.0 729.0 1499.1 729.9 1500.2 729.5 1501.3 730.0 1502.4 729.6 1503.5 729.1 1504.6 729.2 1505.7 729.2 1506.8 729.6 1507.9 730.0 1509.0 728.9 1510.1 728.7 1511.2 728.7 1512.3 728.3 1513.4 728.3 1514.3 728.1 1515.6 727.6 1516.7 726.9 1517.8 726.8 1518.9 726.5 1520.0 725.6 1521.0 725.6 1522.2 724.6 1523.3 723.3 1524.4 723.2 1525.5 721.4 1526.9 721.9 1527.7 722.4 1528.8 722.2 1529.9 723.2 1531.0 724.4 1532.1 725.3 1533.2 725.6 1534.3 726.1 1535.3 726.8 1536.5 726.9 1537.6 726.7 1538.7 727.4 1539.8 727.7 1540.9 727.4 1542.0 728.4 1543.1 728.1 1544.2 728.8 1545.3 727.9 1545.8 728.2 1546.4 728.0 1547.5 729.0 1548.6 729.0 1549.7 729.0 1550.8 728.9 1551.9 728.6 1553.0 728.5 1554.1 727.3 1555.2 728.0 1556.3 727.5 1557.4 727.5 1558.5 726.9 1559.6 727.8 1560.7 727.2 1561.6 726.4 1562.9 726.9 1564.0 726.4 1565.1 725.7 1566.2 725.7 1567.3 725.2 1568.4 724.2 1569.5 724.1 1570.6 724.5 1571.7 724.0 1572.2 723.8 1572.8 723.0 1573.9 722.7 1575.0 722.4 1576.1 722.0 1577.2 720.7 1578.3 720.0 1579.4 720.3 1580.5 719.4 1581.6 718.9 1582.7 718.7 1583.8 718.8 1584.9 719.9 1586.0 720.0 1587.1 719.8 1588.2 719.9 1589.3 721.6 1590.4 722.1 1591.5 722.4 1592.6 722.8 1593.2 721.9 1593.7 722.4 1594.8 723.6 1595.9 723.8 1597.0 724.6 1598.1 724.8 1599.2 725.4 1600.3 726.5 1601.4 726.7 1602.5 727.4 1603.6 728.1 1604.7 728.6 1605.8 729.4 1606.9 729.9 1608.0 729.2 1609.0 729.9 1610.2 730.0 1611.3 730.8 1612.4 730.3 1613.5 731.2 1614.6 731.3 1615.7 731.5 1616.8 731.0 1617.9 731.4 1619.0 731.2 1620.0 732.0 1621.2 732.3 1622.3 731.5 1623.4 731.9 1624.5 732.3 1625.6 732.3 1626.7 733.2 1627.8 732.7 1628.9 733.0 1630.0 732.6 1631.1 733.7 1632.2 733.3 1633.3 733.7 1634.4 733.5 1635.5 732.7 1636.6 733.0 1637.7 733.2 1638.8 734.0 1639.9 733.7 1641.0 734.2 1642.2 734.2 1643.2 734.3 1644.3 734.6 1645.4 734.4 1646.5 733.7 1647.6 734.2 1648.7 735.2 1649.8 734.1 1650.9 735.2 1652.0 735.4 1653.1 734.5 1654.2 734.9 1655.3 734.3 1656.4 735.2 1657.5 734.7 1658.6 734.5 1659.7 734.9 1660.8 734.9 1661.9 734.9 1663.0 735.2 1664.3 735.1 1665.2 735.0 1666.3 735.6 1667.4 736.2 1668.5 735.3 1669.6 735.0 1670.7 734.9 1671.8 735.6 1672.9 735.3 1674.0 735.4 1675.1 734.6 1676.2 735.0 1677.3 735.0 1678.4 735.8 1679.5 735.3 1680.6 734.5 1681.7 735.7 1682.8 736.0 1683.9 736.1 1685.0 734.5 1686.5 735.7 1687.2 735.9 1688.3 735.9 1689.4 735.6 1690.5 735.0 1691.6 735.6 1692.7 735.7 1693.8 736.1 1694.9 736.2 1696.0 735.9 1697.1 736.5 1698.2 735.8 1699.3 736.0 1700.4 736.3 1701.5 736.6 1702.6 736.4 1703.7 737.1 1704.8 736.8 1705.9 736.3 1707.0 736.8 1708.1 736.5 1708.7 736.5 1709.2 736.4 1710.3 737.6 1711.4 737.4 1712.5 736.5 1713.6 737.7 1714.7 737.7 1715.8 737.3 1716.9 737.7 1718.0 738.5 1719.1 737.8 1720.2 737.9 1721.3 738.3 1722.4 737.5 1723.5 737.5 1724.6 737.5 1725.7 738.1 1726.8 738.6 1727.9 738.0 1729.0 737.8 1730.1 738.5 1730.9 738.4 1732.3 738.8 1733.4 738.6 1734.5 738.7 1735.6 738.8 1736.7 738.9 1737.8 738.5 1738.9 738.5 1740.0 739.7 1741.1 740.1 1742.2 739.6 1743.3 738.6 1744.4 739.3 1745.5 739.8 1746.6 738.7 1747.7 739.2 1748.8 739.3 1749.9 739.2 1751.0 739.2 1752.1 740.0 1753.0 739.4 1754.3 739.6 1755.4 740.4 1756.5 739.4 1757.6 739.0 1758.7 740.0 1759.8 740.6 1760.9 739.9 1762.0 739.9 1763.1 739.3 1764.2 739.5 1765.3 740.5 1766.4 740.4 1767.5 740.1 1768.6 739.7 1769.7 739.5 1770.8 739.5 1771.9 739.5 1773.0 740.2 1774.1 739.7 1775.2 739.8 1776.3 740.3 1777.4 740.3 1778.5 740.1 1779.6 740.3 1780.7 740.1 1781.8 739.3 1782.9 740.1 1784.0 740.0 1785.1 740.0 1786.2 740.3 1787.3 739.9 1788.4 740.7 1789.5 740.1 1790.6 740.3 1791.7 740.4 1792.8 740.2 1793.9 740.5 1795.0 740.6 1796.1 740.6 1797.2 740.0 1798.3 740.0 1799.4 740.1 1800.5 740.4 1801.6 739.6 1802.7 740.0 1803.8 739.9 1804.9 740.1 1806.0 740.1 1807.1 740.8 1808.2 740.6 1809.3 740.9 1810.4 740.1 1811.5 740.2 1812.6 740.4 1813.7 741.2 1814.8 741.2 1815.9 740.3 1817.0 740.8 1818.1 741.4 1819.2 740.2 1820.3 740.5 1821.4 741.1 1822.5 740.9 1823.6 740.2 1824.7 741.2 1825.8 741.0 1826.9 740.9 1828.0 740.2 1829.1 740.6 1830.2 741.2 1831.3 740.9 1832.4 741.0 1833.5 740.6 1834.6 741.3 1835.7 740.6 1836.8 741.1 1837.9 740.8 1839.0 740.3 1840.1 741.3 1841.2 740.2 1841.7 740.4 1842.3 740.8 1843.4 740.1 1844.5 740.0 1845.6 740.7 1846.7 740.5 1847.8 740.6 1848.9 740.9 1850.0 741.6 1851.1 740.5 1852.2 741.7 1853.3 740.8 1854.4 740.7 1855.5 739.7 1856.6 740.1 1857.7 740.8 1858.8 740.9 1859.9 740.4 1861.0 740.8 1862.1 741.0 1863.2 740.5 1864.3 740.0 1865.4 740.3 1866.5 740.6 1867.6 740.8 1868.7 741.0 1869.8 740.3 1870.9 740.7 1872.0 740.6 1873.1 740.7 1874.2 741.1 1875.3 741.2 1876.4 740.5 1877.5 740.4 1878.6 740.4 1879.7 740.5 1880.8 740.5 1881.9 740.6 1883.0 740.5 1884.1 740.3 1885.2 740.2 1886.3 740.7 1887.4 741.7 1888.5 740.9 1889.6 740.9 1890.7 740.8 1891.8 740.6 1892.9 741.5 1894.0 740.6 1895.1 740.3 1896.2 740.2 1897.3 740.8 1898.4 740.3 1899.5 740.3 1900.6 740.3 1901.7 740.2 1902.8 740.8 1903.9 740.0 1905.0 741.6 1906.1 739.7 1907.2 740.1 1908.3 740.7 1909.4 740.9 1910.5 740.6 1911.6 740.8 1912.7 740.8 1913.8 740.7 1914.9 740.9 1916.0 740.8 1917.1 740.7 1918.2 740.6 1919.3 741.1 1920.0 740.6 1921.5 740.9 1922.6 741.3 1923.7 740.9 1924.8 741.2 1925.9 740.5 1927.0 740.8 1928.1 740.9 1929.2 740.8 1930.3 740.9 1931.4 741.3 1932.5 740.6 1933.6 740.4 1934.7 740.8 1935.8 740.1 1936.9 740.7 1938.0 741.1 1939.1 740.7 1940.2 740.9 1941.3 740.8 1942.4 741.1 1943.5 740.8 1944.6 740.7 1945.7 739.6 1946.8 740.4 1947.9 740.9 1949.0 740.5 1950.1 740.3 1951.2 741.0 1952.3 740.2 1953.4 740.4 1954.5 740.8 1955.6 740.3 1956.7 740.6 1957.8 740.5 1958.9 740.0 1960.0 740.3 1961.1 740.4 1962.2 740.2 1963.3 740.9 1964.4 740.5 1965.5 740.2 1966.6 739.9 1967.7 740.3 1968.8 741.0 1969.9 740.3 1971.0 740.7 1972.1 740.6 1973.2 740.2 1974.3 740.0 1975.4 740.6 1976.5 739.7 1977.6 740.6 1978.7 739.9 1979.8 740.7 1980.9 740.2 1982.0 740.3 1983.1 740.7 1984.2 739.9 1985.3 740.3 1986.4 740.1 1987.5 740.5 1988.6 740.5 1989.7 740.4 1990.8 740.3 1991.9 740.1 1993.0 740.5 1994.1 740.1 1995.2 740.2 1996.3 740.3 1997.4 739.6 1998.5 739.7 1999.6 740.2 2000.7 740.1 2001.8 740.6 2002.9 739.1 2004.0 740.2 2005.1 740.5 2006.2 740.1 2007.3 740.4 2008.4 740.1 2009.5 740.0 2010.6 740.4 2011.7 739.5 2012.8 739.1 2013.9 740.2 2015.0 740.0 2016.1 740.0 2017.2 740.1 2018.3 740.2 2019.4 739.8 2020.5 740.1 2021.6 740.1 2022.7 739.5 2023.8 739.8 2024.9 740.0 2026.0 739.6 2027.1 740.3 2028.2 739.7 2029.3 740.2 2030.4 740.4 2031.5 739.2 2032.6 739.3 2033.7 740.0 2034.8 739.7 2035.9 740.0 2037.0 740.5 2038.1 739.6 2039.2 740.1 2040.3 739.7 2041.4 739.5 2042.5 739.9 2043.6 739.8 2044.7 740.2 2045.8 739.8 2046.9 740.1 2048.0 739.9 2049.1 739.0 2050.2 739.5 2051.3 739.6 2052.4 740.0 2053.5 739.2 2054.6 739.7 2055.7 739.5 2056.8 738.9 2057.9 739.6 2059.0 739.9 2060.1 739.5 2061.2 740.0 2062.3 739.8 2063.4 739.7 2064.5 739.4 2065.2 739.5 2066.7 739.8 2067.8 739.6 2068.9 739.1 2070.0 739.5 2071.1 739.7 2072.2 740.0 2073.3 739.9 2074.4 739.2 2075.5 739.8 2076.6 738.9 2077.7 739.3 2078.8 739.2 2079.9 740.1 2081.0 739.8 2082.1 739.6 2083.2 739.3 2084.3 740.0 2085.4 739.4 2086.5 739.7 2087.6 739.9 2088.7 739.4 2089.8 739.7 2090.9 738.7 2092.0 739.7 2093.1 738.8 2094.2 739.6 2095.3 739.6 2096.4 739.7 2097.5 740.4 2098.6 738.5 2099.7 739.6 2100.8 739.3 2101.9 739.7 2103.0 739.6 2104.1 739.5 2105.2 739.2 2106.3 739.1 2107.4 739.6 2108.5 738.8 2109.6 739.8 2110.7 739.2 2111.8 739.6 2112.9 738.9 2114.0 739.6 2115.1 739.3 2116.2 739.7 2117.3 739.9 2118.4 739.2 2119.5 739.4 2120.6 739.5 2121.7 739.9 2122.8 738.8 2123.9 739.6 2125.0 739.3 2126.1 738.9 2127.2 739.2 2128.3 739.1 2129.4 739.8 2130.5 739.0 2131.6 739.7 2132.7 739.1 2133.8 739.6 2134.9 738.6 2136.0 739.0 2137.1 739.4 2138.2 738.9 2139.3 738.7 2140.4 739.3 2141.5 739.6 2142.6 739.3 2143.7 739.2 2144.8 739.4 2145.9 739.1 2147.0 739.6 2148.1 739.7 2149.2 738.8 2150.3 739.7 2151.4 739.5 2152.5 739.4 2153.6 739.5 2154.7 739.8 2155.8 740.0 2156.9 739.9 2158.0 739.1 2159.1 739.8 2160.2 738.6 2161.3 739.6 2162.4 739.5 2163.5 739.6 2164.6 738.9 2165.7 739.8 2166.8 739.7 2167.9 739.3 2169.0 738.6 2170.1 739.3 2171.2 738.9 2172.3 738.6 2173.4 738.9 2174.5 740.1 2175.6 738.6 2176.7 739.1 2177.8 739.3 2178.9 739.6 2180.0 738.8 2181.1 738.8 2182.2 739.5 2183.3 739.3 2184.4 739.6 2185.5 738.7 2186.6 739.1 2187.7 739.5 2188.8 739.2 2189.9 738.7 2191.0 739.2 2192.1 738.4 2193.2 738.8 2194.3 739.4 2195.4 739.5 2196.5 739.3 2197.6 739.4 2198.7 738.5 2199.8 738.9 2200.9 739.5 2202.0 740.0 2203.1 739.3 2204.2 738.7 2205.3 738.7 2206.4 739.6 2207.5 739.5 2208.6 738.6 2209.7 739.2 2210.8 739.7 2211.9 739.7 2213.2 738.9" fill="none" stroke="#088080" stroke-width="3.4" stroke-linejoin="round"/>
</g>
<g font-family="'Liberation Sans', Arial, Helvetica, sans-serif" fill="#000">
<rect x="259.5" y="141.5" width="145.5" height="55.0" fill="#000"/><rect x="249.5" y="131.5" width="145.5" height="55.0" fill="#fff" stroke="#7f7f7f" stroke-width="1"/><text x="264.5" y="171.3" font-size="35">5<tspan font-family="Roboto, FreeSans, 'Liberation Sans', Arial, sans-serif">1</tspan>4 nm</text>
<rect x="1388.5" y="142.0" width="145.5" height="54.5" fill="#000"/><rect x="1378.5" y="132.0" width="145.5" height="54.5" fill="#fff" stroke="#7f7f7f" stroke-width="1"/><text x="1393.0" y="171.3" font-size="35">5<tspan font-family="Roboto, FreeSans, 'Liberation Sans', Arial, sans-serif">1</tspan>4 nm</text>
<text x="188.5" y="735.0" font-size="35" text-anchor="end">0</text>
<text x="188.5" y="487.8" font-size="35" text-anchor="end">4000</text>
<text x="188.5" y="240.4" font-size="35" text-anchor="end">8000</text>
<text x="1317.6" y="752.2" font-size="35" text-anchor="end">0</text>
<text x="1317.6" y="540.9" font-size="35" text-anchor="end"><tspan font-family="Roboto, FreeSans, 'Liberation Sans', Arial, sans-serif">1</tspan>0000</text>
<text x="1317.6" y="328.0" font-size="35" text-anchor="end">20000</text>
<text x="1317.6" y="116.3" font-size="35" text-anchor="end">30000</text>
<text x="341.9" y="803.8" font-size="35" text-anchor="middle">400</text>
<text x="1471.5" y="802.0" font-size="35" text-anchor="middle">400</text>
<text x="526.9" y="803.8" font-size="35" text-anchor="middle">800</text>
<text x="1656.6" y="802.0" font-size="35" text-anchor="middle">800</text>
<text x="711.9" y="803.8" font-size="35" text-anchor="middle"><tspan font-family="Roboto, FreeSans, 'Liberation Sans', Arial, sans-serif">1</tspan>200</text>
<text x="1841.8" y="802.0" font-size="35" text-anchor="middle"><tspan font-family="Roboto, FreeSans, 'Liberation Sans', Arial, sans-serif">1</tspan>200</text>
<text x="897.0" y="803.8" font-size="35" text-anchor="middle"><tspan font-family="Roboto, FreeSans, 'Liberation Sans', Arial, sans-serif">1</tspan>600</text>
<text x="2026.9" y="802.0" font-size="35" text-anchor="middle"><tspan font-family="Roboto, FreeSans, 'Liberation Sans', Arial, sans-serif">1</tspan>600</text>
<text x="1082.0" y="803.8" font-size="35" text-anchor="middle">2000</text>
<text x="2212.1" y="802.0" font-size="35" text-anchor="middle">2000</text>
<text x="433" y="257.2" font-size="35">GQD-PC2<tspan font-family="Roboto, FreeSans, 'Liberation Sans', Arial, sans-serif">11</tspan> (48 h)</text>
<text x="770" y="548.8" font-size="35">GQD-PC2<tspan font-family="Roboto, FreeSans, 'Liberation Sans', Arial, sans-serif">11</tspan></text>
<text x="855" y="704.2" font-size="35">PC2<tspan font-family="Roboto, FreeSans, 'Liberation Sans', Arial, sans-serif">11</tspan></text>
<text x="1517.5" y="290.4" font-size="35">GQD-PC26<tspan font-family="Roboto, FreeSans, 'Liberation Sans', Arial, sans-serif">1</tspan> (48 h)</text>
<text x="1893.5" y="533.9" font-size="35">GQD-PC26<tspan font-family="Roboto, FreeSans, 'Liberation Sans', Arial, sans-serif">1</tspan></text>
<text x="1985.5" y="713.9" font-size="35">PC26<tspan font-family="Roboto, FreeSans, 'Liberation Sans', Arial, sans-serif">1</tspan></text>
<text x="474.8" y="874.4" font-size="41.2">Raman shift (cm<tspan font-size="25" dy="-18.9">-<tspan font-family="Roboto, FreeSans, 'Liberation Sans', Arial, sans-serif">1</tspan></tspan><tspan dy="18.9" dx="1.5">)</tspan></text>
<text x="1605.8" y="871.9" font-size="41">Raman shift (cm<tspan font-size="25" dy="-18.9">-<tspan font-family="Roboto, FreeSans, 'Liberation Sans', Arial, sans-serif">1</tspan></tspan><tspan dy="18.9" dx="1.5">)</tspan></text>
<text transform="translate(55.7 620.6) rotate(-90)" font-size="41.27">Intensity (arb. units)</text>
<text transform="translate(1167.2 617.4) rotate(-90)" font-size="41">Intensity (arb. units)</text>
</g>
<g font-family="Carlito, Calibri, 'Liberation Sans', sans-serif" fill="#000">
<text x="17" y="66.5" font-size="53.5">(<tspan font-size="50.6" dy="-2.8">a</tspan><tspan dy="2.8" dx="1.3">)</tspan></text>
<text x="1127.5" y="66.5" font-size="53.5">(<tspan font-size="50.6" dy="-2.8">b</tspan><tspan dy="2.8" dx="1.3">)</tspan></text>
</g>
</svg>
</body></html>
